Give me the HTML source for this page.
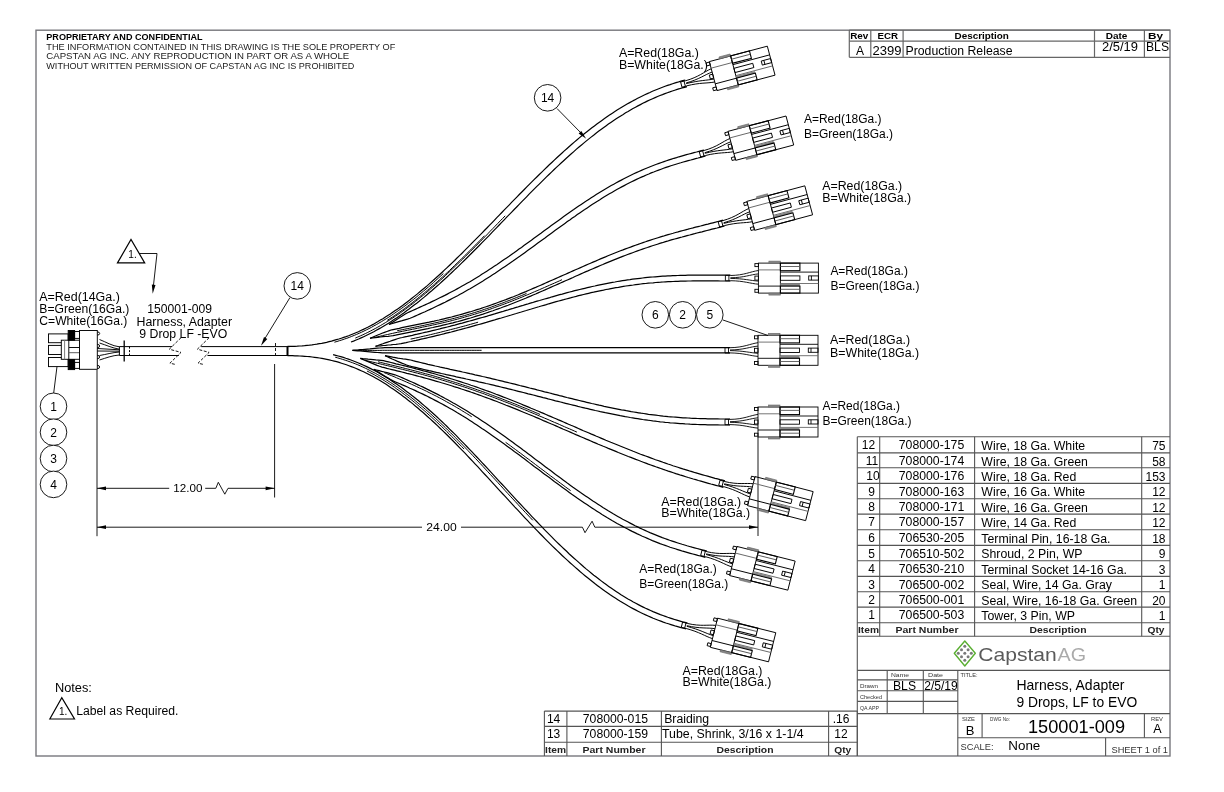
<!DOCTYPE html><html><head><meta charset="utf-8"><style>html,body{margin:0;padding:0;background:#fff;}svg{display:block;will-change:transform;}</style></head><body>
<svg width="1224" height="792" viewBox="0 0 1224 792" font-family='"Liberation Sans", sans-serif' stroke-linecap="butt">
<defs><g id="conn" fill="none" stroke="#000" stroke-width="0.9">
<rect x="0" y="-15" width="60" height="30"/>
<rect x="-3.5" y="-14.5" width="3.5" height="3"/>
<rect x="-3.5" y="-2" width="3.5" height="4"/>
<rect x="-3.5" y="11.2" width="3.5" height="3"/>
<rect x="10.5" y="-17" width="11.5" height="2" fill="#888" stroke="#666" stroke-width="0.6"/>
<rect x="10.5" y="15" width="11.5" height="2" fill="#888" stroke="#666" stroke-width="0.6"/>
<line x1="22" y1="-15" x2="22" y2="15"/>
<line x1="0" y1="-8.2" x2="22" y2="-8.2" stroke="#666"/>
<line x1="0" y1="8" x2="22" y2="8"/>
<line x1="22" y1="-6" x2="60" y2="-6"/>
<line x1="22" y1="5.4" x2="60" y2="5.4" stroke="#666"/>
<rect x="22" y="-15" width="19.5" height="7.6" stroke-width="1.1"/>
<line x1="22" y1="-11.6" x2="41.5" y2="-11.6" stroke="#555"/>
<rect x="22" y="-2.2" width="19.5" height="4.4"/>
<rect x="50.3" y="-2.2" width="9.7" height="4.2"/>
<line x1="53" y1="-2.2" x2="53" y2="2"/>
<rect x="22" y="5.7" width="19.5" height="2.3" fill="#888" stroke="none"/>
<rect x="22" y="8" width="19.5" height="7" stroke-width="1.1"/>
<line x1="22" y1="11.2" x2="41.5" y2="11.2" stroke="#555"/>
<path d="M-28,-2.6 C-14,-2.8 -8,-6.5 0,-7.6 M-28,-0.3 C-14,-0.5 -8,-3.5 0,-4.2 M-28,0.3 C-14,0.5 -8,2.5 0,3.0 M-28,2.6 C-14,2.8 -8,5.5 0,6.1"/>
<line x1="-33" y1="-2.8" x2="-33" y2="2.8"/>
<line x1="-29.5" y1="-2.8" x2="-29.5" y2="2.8"/>
<line x1="-33" y1="-2.7" x2="-28" y2="-2.7"/>
<line x1="-33" y1="2.7" x2="-28" y2="2.7"/>
</g></defs>
<rect width="1224" height="792" fill="#fff"/>
<rect x="36.0" y="30.2" width="1134.0" height="725.8" stroke="#77777c" stroke-width="1.4" fill="none"/>
<text x="46.3" y="39.5" font-size="9.4" font-weight="bold" textLength="156.2" lengthAdjust="spacingAndGlyphs">PROPRIETARY AND CONFIDENTIAL</text>
<text x="46.3" y="49.6" font-size="9.6" fill="#1a1a1a" textLength="349" lengthAdjust="spacingAndGlyphs">THE INFORMATION CONTAINED IN THIS DRAWING IS THE SOLE PROPERTY OF</text>
<text x="46.3" y="59.3" font-size="9.6" fill="#1a1a1a" textLength="303" lengthAdjust="spacingAndGlyphs">CAPSTAN AG INC. ANY REPRODUCTION IN PART OR AS A WHOLE</text>
<text x="46.3" y="69.2" font-size="9.6" fill="#1a1a1a" textLength="308" lengthAdjust="spacingAndGlyphs">WITHOUT WRITTEN PERMISSION OF CAPSTAN AG INC IS PROHIBITED</text>
<line x1="849.3" y1="30.0" x2="1170.0" y2="30.0" stroke-width="1.2" stroke="#666"/>
<line x1="849.3" y1="41.2" x2="1170.0" y2="41.2" stroke-width="1.2" stroke="#666"/>
<line x1="849.3" y1="57.3" x2="1170.0" y2="57.3" stroke-width="1.2" stroke="#666"/>
<line x1="849.3" y1="30.0" x2="849.3" y2="57.3" stroke-width="1.2" stroke="#666"/>
<line x1="870.8" y1="30.0" x2="870.8" y2="57.3" stroke-width="1.2" stroke="#666"/>
<line x1="903.1" y1="30.0" x2="903.1" y2="57.3" stroke-width="1.2" stroke="#666"/>
<line x1="1094.5" y1="30.0" x2="1094.5" y2="57.3" stroke-width="1.2" stroke="#666"/>
<line x1="1144.4" y1="30.0" x2="1144.4" y2="57.3" stroke-width="1.2" stroke="#666"/>
<text x="850.2" y="39.4" font-size="9.5" font-weight="bold" textLength="18.2" lengthAdjust="spacingAndGlyphs">Rev</text>
<text x="877.4" y="39.4" font-size="9.5" font-weight="bold" textLength="20.6" lengthAdjust="spacingAndGlyphs">ECR</text>
<text x="954.5" y="39.4" font-size="9.5" font-weight="bold" textLength="54.4" lengthAdjust="spacingAndGlyphs">Description</text>
<text x="1105.7" y="39.4" font-size="9.5" font-weight="bold" textLength="21.7" lengthAdjust="spacingAndGlyphs">Date</text>
<text x="1148.0" y="39.4" font-size="9.5" font-weight="bold" textLength="15" lengthAdjust="spacingAndGlyphs">By</text>
<text x="860.0" y="54.8" font-size="12" text-anchor="middle">A</text>
<text x="872.5" y="54.8" font-size="12" textLength="29" lengthAdjust="spacingAndGlyphs">2399</text>
<text x="905.5" y="54.8" font-size="12" textLength="107" lengthAdjust="spacingAndGlyphs">Production Release</text>
<text x="1102.0" y="50.8" font-size="12" textLength="36" lengthAdjust="spacingAndGlyphs">2/5/19</text>
<text x="1146.0" y="50.8" font-size="12" textLength="23" lengthAdjust="spacingAndGlyphs">BLS</text>
<g fill="none" stroke="#000" stroke-width="0.95">
<rect x="48.5" y="333.9" width="19.7" height="8.8"/>
<rect x="48.5" y="345.4" width="19.7" height="9.1"/>
<rect x="48.5" y="357.5" width="19.7" height="9.1"/>
<rect x="61.3" y="340.2" width="20" height="19.1" fill="#fff"/>
<line x1="64.6" y1="340.2" x2="64.6" y2="359.3" stroke="#777"/><line x1="68.8" y1="340.2" x2="68.8" y2="359.3"/>
<line x1="69" y1="347.5" x2="80.7" y2="347.5"/><line x1="69" y1="352.7" x2="80.7" y2="352.7" stroke="#555"/>
<rect x="79.5" y="330.5" width="17.8" height="38.8" fill="#fff"/>
<rect x="68.2" y="330.5" width="6.4" height="9.7" fill="#000"/>
<rect x="68.2" y="359.6" width="6.4" height="10" fill="#000"/>
<rect x="74.6" y="331.5" width="4.9" height="6.9"/><rect x="74.6" y="362.4" width="4.9" height="6"/>
<path d="M97.3,331.9 q2.4,0 2.4,1.6 q0,1.6 -2.4,1.6"/>
<path d="M97.3,344.4 q2.4,0 2.4,1.6 q0,1.6 -2.4,1.6"/>
<path d="M97.3,355.4 q2.4,0 2.4,1.6 q0,1.6 -2.4,1.6"/>
<path d="M97.3,365.4 q2.4,0 2.4,1.6 q0,1.6 -2.4,1.6"/>
<path d="M99.5,339.5 C106,342 112,346 119.4,346.8 M99.5,343 C106,345 112,348 119.4,349.2 M97.3,348.5 L119.4,349.8 M97.3,351 L119.4,351.2 M99.5,355.5 C106,354.5 112,352.5 119.4,352 M99.5,360 C106,358 112,355.5 119.4,355"/>
</g>
<g fill="none" stroke="#000" stroke-width="1">
<path d="M119.4,346.6 H172 M119.4,355.5 H178.9 M201.2,346.6 H290 M207.5,355.5 H290"/>
<line x1="119.4" y1="346.6" x2="119.4" y2="355.5"/>
<line x1="124.2" y1="340.4" x2="124.2" y2="361.6" stroke-width="1.3"/>
<line x1="129.5" y1="346.6" x2="129.5" y2="355.5" stroke-dasharray="2,1.5"/>
<path d="M181,337.7 L169.3,349.2 L181,352.4 L169.9,363.2 L175.7,364.5" stroke-dasharray="3,1.6" stroke-width="0.9"/>
<path d="M209.1,337.7 L197.4,349.2 L209.1,352.4 L198.0,363.2 L203.79999999999998,364.5" stroke-dasharray="3,1.6" stroke-width="0.9"/>
<line x1="287.5" y1="346.6" x2="287.5" y2="355.5" stroke-width="2"/>
</g>
<path d="M117.5,262.9 L131,239.4 L144.7,262.9 Z" fill="none" stroke="#000" stroke-width="1.2"/>
<text x="132.5" y="258.0" font-size="10" text-anchor="middle">1.</text>
<path d="M139,253.5 H157 L153.5,285" fill="none" stroke="#000" stroke-width="0.9"/>
<path d="M152.7,293.7 L151.8,284.5 L155.5,285.0 Z" fill="#000" stroke="none"/>
<text x="179.7" y="313.3" font-size="12" text-anchor="middle" textLength="64.7" lengthAdjust="spacingAndGlyphs">150001-009</text>
<text x="184.3" y="325.7" font-size="12" text-anchor="middle" textLength="95.5" lengthAdjust="spacingAndGlyphs">Harness, Adapter</text>
<text x="183.3" y="337.8" font-size="12" text-anchor="middle" textLength="88" lengthAdjust="spacingAndGlyphs">9 Drop LF -EVO</text>
<text x="39.3" y="301.2" font-size="12" textLength="80.5" lengthAdjust="spacingAndGlyphs">A=Red(14Ga.)</text>
<text x="39.3" y="313.0" font-size="12" textLength="90" lengthAdjust="spacingAndGlyphs">B=Green(16Ga.)</text>
<text x="39.3" y="324.8" font-size="12" textLength="88" lengthAdjust="spacingAndGlyphs">C=White(16Ga.)</text>
<line x1="57.0" y1="366.5" x2="53.7" y2="393.0" stroke-width="0.9" stroke="#000"/>
<circle cx="53.5" cy="406.3" r="13.3" fill="#fff" stroke="#000" stroke-width="0.9"/>
<text x="53.5" y="410.6" font-size="12" text-anchor="middle">1</text>
<circle cx="53.5" cy="432.2" r="13.3" fill="#fff" stroke="#000" stroke-width="0.9"/>
<text x="53.5" y="436.5" font-size="12" text-anchor="middle">2</text>
<circle cx="53.5" cy="458.5" r="13.3" fill="#fff" stroke="#000" stroke-width="0.9"/>
<text x="53.5" y="462.8" font-size="12" text-anchor="middle">3</text>
<circle cx="53.5" cy="484.4" r="13.3" fill="#fff" stroke="#000" stroke-width="0.9"/>
<text x="53.5" y="488.7" font-size="12" text-anchor="middle">4</text>
<line x1="290.0" y1="297.5" x2="264.0" y2="340.0" stroke-width="0.9" stroke="#000"/>
<path d="M261.0,345.7 L264.0,337.0 L267.3,339.0 Z" fill="#000" stroke="none"/>
<circle cx="297.3" cy="285.9" r="13.3" fill="#fff" stroke="#000" stroke-width="0.9"/>
<text x="297.3" y="290.2" font-size="12" text-anchor="middle">14</text>
<g stroke="#000" stroke-width="0.9" fill="none">
<line x1="97" y1="370" x2="97" y2="536.2"/>
<line x1="275.5" y1="343" x2="275.5" y2="358" stroke-dasharray="3,2"/><line x1="274.6" y1="364" x2="274.6" y2="497.5"/>
<line x1="758" y1="437" x2="758" y2="536"/>
<path d="M97,488.3 H169.2 M205.2,488.3 H215.8 L218.3,482.3 L224.8,494.2 L228,488.3 H274.6"/>
<path d="M97,527.2 H422 M461,527.2 H582.4 L585,532.7 L592.1,521.2 L594.8,527.2 H758"/>
</g>
<path d="M97.0,488.3 L106.0,486.4 L106.0,490.2 Z" fill="#000" stroke="none"/>
<path d="M274.6,488.3 L265.6,490.2 L265.6,486.4 Z" fill="#000" stroke="none"/>
<path d="M97.0,527.2 L106.0,525.3 L106.0,529.1 Z" fill="#000" stroke="none"/>
<path d="M758.0,527.2 L749.0,529.1 L749.0,525.3 Z" fill="#000" stroke="none"/>
<text x="187.9" y="491.7" font-size="11.5" text-anchor="middle" textLength="29.1" lengthAdjust="spacingAndGlyphs">12.00</text>
<text x="441.5" y="531.0" font-size="11.5" text-anchor="middle" textLength="30.3" lengthAdjust="spacingAndGlyphs">24.00</text>
<text x="54.9" y="691.6" font-size="12" textLength="37" lengthAdjust="spacingAndGlyphs">Notes:</text>
<path d="M49.8,719 L61.8,697.8 L74.5,719 Z" fill="none" stroke="#000" stroke-width="1.2"/>
<text x="63.2" y="715.0" font-size="10" text-anchor="middle">1.</text>
<text x="76.2" y="714.6" font-size="12" textLength="102.2" lengthAdjust="spacingAndGlyphs">Label as Required.</text>
<g fill="none" stroke="#000" stroke-width="1.2">
<path d="M287.5,346.4 L290.0,346.4 L292.4,346.3 L294.9,346.3 L297.3,346.2 L299.8,346.0 L302.2,345.9 L304.6,345.7 L307.1,345.4 L309.5,345.2 L312.0,344.9 L314.4,344.5 L316.9,344.2 L319.3,343.7 L321.7,343.3 L324.2,342.8 L326.6,342.3 L329.1,341.7 L331.5,341.1 L333.9,340.4 L336.4,339.7 L338.8,339.0 L341.3,338.2 L343.7,337.4 L346.1,336.6 L348.6,335.7 L351.0,334.7 L353.5,333.7 L355.9,332.7 L358.4,331.7 L360.8,330.5 L363.3,329.4 L365.7,328.2 L368.2,327.0 L370.6,325.7 L373.1,324.4 L375.5,323.0 L378.0,321.6 L380.4,320.1 L382.9,318.7 L385.4,317.1 L387.8,315.6 L390.3,314.0 L392.7,312.3 L395.2,310.6 L397.7,308.9 L400.1,307.2 L402.6,305.4 L405.1,303.5 L407.5,301.7 L410.0,299.8 L412.5,297.8 L414.9,295.9 L417.4,293.9 L419.9,291.8 L422.3,289.8 L424.8,287.7 L427.3,285.6 L429.8,283.4 L432.2,281.2 L434.7,279.0 L437.2,276.8 L439.7,274.5 L442.2,272.2 L444.6,269.9 L447.1,267.6 L449.6,265.2 L452.1,262.9 L454.6,260.5 L457.0,258.0 L459.5,255.6 L462.0,253.2 L464.5,250.7 L467.0,248.2 L469.5,245.7 L471.9,243.2 L474.4,240.7 L476.9,238.2 L479.4,235.6 L481.9,233.1 L484.4,230.5 L486.9,228.0 L489.4,225.4 L491.9,222.8 L494.3,220.3 L496.8,217.7 L499.3,215.1 L501.8,212.5 L504.3,209.9 L506.8,207.4 L509.3,204.8 L511.8,202.2 L514.3,199.7 L516.8,197.1 L519.3,194.5 L521.8,192.0 L524.3,189.5 L526.8,186.9 L529.3,184.4 L531.8,181.9 L534.3,179.4 L536.8,177.0 L539.3,174.5 L541.8,172.1 L544.3,169.6 L546.8,167.2 L549.3,164.8 L551.8,162.5 L554.3,160.1 L556.8,157.8 L559.3,155.5 L561.8,153.2 L564.3,150.9 L566.8,148.7 L569.3,146.5 L571.8,144.3 L574.3,142.1 L576.8,140.0 L579.3,137.9 L581.8,135.8 L584.3,133.8 L586.9,131.8 L589.4,129.8 L591.9,127.8 L594.4,125.9 L596.9,124.0 L599.4,122.2 L601.9,120.4 L604.5,118.6 L607.0,116.8 L609.5,115.1 L612.0,113.4 L614.5,111.8 L617.1,110.1 L619.6,108.6 L622.1,107.0 L624.6,105.5 L627.1,104.0 L629.7,102.6 L632.2,101.2 L634.7,99.9 L637.2,98.5 L639.8,97.2 L642.3,96.0 L644.8,94.8 L647.3,93.6 L649.9,92.5 L652.4,91.3 L654.9,90.3 L657.5,89.2 L660.0,88.2 L662.5,87.3 L665.1,86.3 L667.6,85.4 L670.1,84.6 L672.6,83.7 L675.2,82.9 L677.7,82.2 L680.2,81.4 L682.7,80.7 L685.3,80.0"/>
<path d="M351.0,342.0 L353.5,341.1 L356.1,340.0 L358.6,339.0 L361.1,337.9 L363.7,336.7 L366.2,335.5 L368.7,334.3 L371.3,333.0 L373.8,331.7 L376.3,330.3 L378.9,328.9 L381.4,327.5 L383.9,326.0 L386.4,324.5 L389.0,322.9 L391.5,321.3 L394.0,319.6 L396.5,318.0 L399.1,316.2 L401.6,314.5 L404.1,312.7 L406.6,310.8 L409.1,309.0 L411.6,307.1 L414.2,305.1 L416.7,303.2 L419.2,301.2 L421.7,299.1 L424.2,297.1 L426.7,295.0 L429.2,292.8 L431.7,290.7 L434.2,288.5 L436.8,286.3 L439.3,284.1 L441.8,281.8 L444.3,279.5 L446.8,277.2 L449.3,274.9 L451.8,272.5 L454.3,270.1 L456.8,267.8 L459.3,265.3 L461.8,262.9 L464.3,260.5 L466.8,258.0 L469.3,255.5 L471.8,253.0 L474.3,250.5 L476.8,248.0 L479.3,245.5 L481.8,242.9 L484.3,240.4 L486.8,237.8 L489.3,235.3 L491.8,232.7 L494.2,230.1 L496.7,227.6 L499.2,225.0 L501.7,222.4 L504.2,219.8 L506.7,217.2 L509.2,214.7 L511.7,212.1 L514.2,209.5 L516.7,207.0 L519.2,204.4 L521.6,201.8 L524.1,199.3 L526.6,196.8 L529.1,194.2 L531.6,191.7 L534.1,189.2 L536.6,186.7 L539.0,184.3 L541.5,181.8 L544.0,179.4 L546.5,176.9 L549.0,174.5 L551.5,172.1 L553.9,169.8 L556.4,167.4 L558.9,165.1 L561.4,162.8 L563.9,160.5 L566.3,158.2 L568.8,156.0 L571.3,153.8 L573.8,151.6 L576.2,149.4 L578.7,147.3 L581.2,145.2 L583.7,143.1 L586.1,141.1 L588.6,139.1 L591.1,137.1 L593.6,135.2 L596.0,133.2 L598.5,131.3 L601.0,129.5 L603.4,127.7 L605.9,125.9 L608.4,124.1 L610.8,122.4 L613.3,120.7 L615.8,119.1 L618.2,117.5 L620.7,115.9 L623.2,114.4 L625.6,112.8 L628.1,111.4 L630.5,109.9 L633.0,108.5 L635.5,107.2 L637.9,105.9 L640.4,104.6 L642.8,103.3 L645.3,102.1 L647.7,100.9 L650.2,99.8 L652.6,98.7 L655.1,97.6 L657.6,96.5 L660.0,95.5 L662.5,94.6 L664.9,93.6 L667.4,92.7 L669.8,91.9 L672.3,91.0 L674.7,90.2 L677.2,89.4 L679.6,88.7 L682.1,87.9 L684.6,87.3 L687.0,86.6"/>
<path d="M355.3,338.1 L357.8,337.0 L360.3,335.9 L362.8,334.8 L365.3,333.6 L367.8,332.4 L370.3,331.1 L372.8,329.8 L375.3,328.5 L377.8,327.1 L380.3,325.7 L382.8,324.2 L385.3,322.7 L387.9,321.1 L390.4,319.5 L392.9,317.9 L395.4,316.2 L397.9,314.5 L400.4,312.8 L402.9,311.0 L405.4,309.2 L407.9,307.3 L410.4,305.4 L412.9,303.5 L415.4,301.5 L417.9,299.5 L420.4,297.5 L422.9,295.5 L425.4,293.4 L427.9,291.3 L430.4,289.1 L432.9,286.9 L435.4,284.7 L437.9,282.5 L440.4,280.2 L442.9,278.0 L445.3,275.7 L447.8,273.3 L450.3,271.0 L452.8,268.6 L455.3,266.2 L457.8,263.8 L460.3,261.4 L462.8,259.0 L465.3,256.5 L467.8,254.0 L470.3,251.5 L472.8,249.0 L475.3,246.5 L477.8,244.0 L480.3,241.5 L482.8,238.9 L485.3,236.4 L487.8,233.8 L490.2,231.2 L492.7,228.7 L495.2,226.1 L497.7,223.5 L500.2,220.9 L502.7,218.4 L505.2,215.8" stroke-width="1"/>
<path d="M334.4,342.2 L336.9,341.5 L339.4,340.7 L341.8,340.0 L344.3,339.1 L346.8,338.3 L349.2,337.4 L351.7,336.4 L354.2,335.4 L356.6,334.4 L359.1,333.3 L361.6,332.2 L364.0,331.0 L366.5,329.8 L369.0,328.6 L371.5,327.3 L373.9,325.9 L376.4,324.6 L378.9,323.1 L381.4,321.7 L383.8,320.2 L386.3,318.7 L388.8,317.1 L391.3,315.5 L393.7,313.8 L396.2,312.1 L398.7,310.4 L401.2,308.6 L403.7,306.8 L406.1,305.0 L408.6,303.1 L411.1,301.2 L413.6,299.3 L416.1,297.3 L418.5,295.3 L421.0,293.2 L423.5,291.1 L426.0,289.0 L428.5,286.9 L431.0,284.8 L433.4,282.6 L435.9,280.3 L438.4,278.1 L440.9,275.8 L443.4,273.5" stroke-width="1"/>
<path d="M387.3,320.3 L389.8,318.7 L392.3,317.1 L394.8,315.4 L397.3,313.7 L399.8,311.9 L402.3,310.2 L404.8,308.4 L407.3,306.5 L409.8,304.6 L412.3,302.7 L414.8,300.7 L417.2,298.8 L419.7,296.7 L422.2,294.7 L424.7,292.6 L427.2,290.5 L429.7,288.3 L432.2,286.2 L434.7,284.0 L437.2,281.8 L439.7,279.5 L442.2,277.2 L444.7,274.9 L447.2,272.6 L449.7,270.3 L452.1,267.9 L454.6,265.5 L457.1,263.1 L459.6,260.7 L462.1,258.2 L464.6,255.8 L467.1,253.3 L469.6,250.8 L472.1,248.3 L474.6,245.8 L477.1,243.3 L479.6,240.8 L482.1,238.2 L484.5,235.7" stroke-width="1"/>
<use href="#conn" transform="translate(713.20,76.10) rotate(-14.9)"/>
<path d="M389.0,324.5 L391.3,323.0 L393.7,321.5 L396.0,320.0 L398.3,318.5 L400.6,317.1 L403.0,315.6 L405.3,314.1 L407.6,312.7 L410.1,311.6 L412.6,310.5 L415.1,309.4 L417.6,308.2 L420.0,307.1 L422.5,306.0 L425.0,304.9 L427.5,303.7 L430.0,302.6 L432.4,301.4 L434.9,300.2 L437.4,299.0 L439.8,297.8 L442.3,296.6 L444.8,295.4 L447.3,294.1 L449.7,292.8 L452.2,291.5 L454.7,290.2 L457.1,288.9 L459.6,287.5 L462.1,286.1 L464.5,284.7 L467.0,283.3 L469.5,281.9 L472.0,280.4 L474.4,278.9 L476.9,277.4 L479.4,275.9 L481.8,274.3 L484.3,272.8 L486.8,271.2 L489.3,269.6 L491.7,268.0 L494.2,266.3 L496.7,264.7 L499.2,263.0 L501.6,261.3 L504.1,259.6 L506.6,257.9 L509.1,256.2 L511.5,254.4 L514.0,252.7 L516.5,250.9 L519.0,249.1 L521.5,247.4 L523.9,245.6 L526.4,243.8 L528.9,242.0 L531.4,240.2 L533.9,238.3 L536.4,236.5 L538.8,234.7 L541.3,232.9 L543.8,231.0 L546.3,229.2 L548.8,227.4 L551.3,225.6 L553.8,223.8 L556.3,222.0 L558.8,220.2 L561.2,218.4 L563.7,216.6 L566.2,214.8 L568.7,213.0 L571.2,211.3 L573.7,209.6 L576.2,207.8 L578.7,206.1 L581.2,204.4 L583.7,202.7 L586.2,201.1 L588.7,199.4 L591.2,197.8 L593.7,196.2 L596.2,194.6 L598.7,193.0 L601.2,191.5 L603.7,190.0 L606.2,188.5 L608.7,187.0 L611.2,185.6 L613.8,184.2 L616.3,182.8 L618.8,181.4 L621.3,180.1 L623.8,178.8 L626.3,177.5 L628.8,176.2 L631.3,175.0 L633.8,173.8 L636.3,172.6 L638.9,171.5 L641.4,170.4 L643.9,169.3 L646.4,168.2 L648.9,167.2 L651.4,166.2 L653.9,165.2 L656.5,164.3 L659.0,163.4 L661.5,162.5 L664.0,161.6 L666.5,160.7 L669.0,159.9 L671.5,159.1 L674.0,158.3 L676.5,157.6 L679.0,156.8 L681.5,156.1 L684.0,155.4 L686.5,154.7 L689.0,154.0 L691.5,153.3 L694.0,152.6 L696.5,152.0 L699.0,151.3 L701.5,150.7 L704.0,150.0"/>
<path d="M389.0,324.5 L391.6,323.7 L394.3,322.9 L396.9,322.1 L399.6,321.3 L402.2,320.6 L404.9,319.8 L407.5,319.1 L410.1,318.3 L412.6,317.2 L415.1,316.1 L417.6,315.0 L420.1,313.9 L422.6,312.8 L425.1,311.7 L427.6,310.5 L430.1,309.4 L432.6,308.2 L435.1,307.0 L437.6,305.8 L440.1,304.6 L442.6,303.4 L445.1,302.2 L447.6,300.9 L450.1,299.6 L452.6,298.3 L455.1,297.0 L457.6,295.7 L460.1,294.3 L462.6,292.9 L465.1,291.5 L467.6,290.1 L470.1,288.7 L472.6,287.2 L475.1,285.7 L477.6,284.2 L480.1,282.7 L482.6,281.2 L485.1,279.6 L487.6,278.0 L490.1,276.4 L492.6,274.8 L495.1,273.2 L497.6,271.5 L500.1,269.8 L502.6,268.1 L505.1,266.4 L507.6,264.7 L510.1,263.0 L512.6,261.3 L515.1,259.5 L517.6,257.7 L520.1,256.0 L522.6,254.2 L525.1,252.4 L527.6,250.6 L530.1,248.8 L532.6,247.0 L535.0,245.2 L537.5,243.3 L540.0,241.5 L542.5,239.7 L545.0,237.9 L547.5,236.0 L550.0,234.2 L552.4,232.4 L554.9,230.6 L557.4,228.8 L559.9,227.0 L562.4,225.2 L564.9,223.4 L567.3,221.6 L569.8,219.9 L572.3,218.1 L574.8,216.4 L577.3,214.6 L579.7,212.9 L582.2,211.2 L584.7,209.6 L587.2,207.9 L589.6,206.2 L592.1,204.6 L594.6,203.0 L597.0,201.4 L599.5,199.9 L602.0,198.3 L604.4,196.8 L606.9,195.3 L609.4,193.8 L611.9,192.4 L614.3,191.0 L616.8,189.6 L619.2,188.2 L621.7,186.9 L624.2,185.6 L626.6,184.3 L629.1,183.0 L631.6,181.8 L634.0,180.6 L636.5,179.4 L638.9,178.3 L641.4,177.1 L643.9,176.1 L646.3,175.0 L648.8,174.0 L651.2,172.9 L653.7,172.0 L656.2,171.0 L658.6,170.1 L661.1,169.2 L663.5,168.3 L666.0,167.4 L668.5,166.6 L670.9,165.8 L673.4,165.0 L675.9,164.2 L678.3,163.5 L680.8,162.8 L683.3,162.0 L685.7,161.3 L688.2,160.6 L690.7,160.0 L693.2,159.3 L695.6,158.6 L698.1,158.0 L700.6,157.3 L703.1,156.7 L705.6,156.0"/>
<use href="#conn" transform="translate(731.85,145.85) rotate(-14.8)"/>
<path d="M370.0,338.3 L372.4,337.3 L374.8,336.2 L377.2,335.2 L379.6,334.3 L382.0,333.3 L384.5,332.4 L386.9,331.5 L389.3,330.6 L391.8,329.8 L394.3,329.3 L396.8,328.8 L399.3,328.3 L401.8,327.7 L404.3,327.2 L406.8,326.7 L409.3,326.2 L411.8,325.7 L414.2,325.2 L416.7,324.7 L419.2,324.2 L421.7,323.7 L424.2,323.2 L426.7,322.7 L429.2,322.2 L431.6,321.6 L434.1,321.1 L436.6,320.5 L439.1,320.0 L441.6,319.4 L444.0,318.8 L446.5,318.2 L449.0,317.6 L451.5,317.0 L453.9,316.3 L456.4,315.7 L458.9,315.0 L461.4,314.3 L463.8,313.6 L466.3,312.9 L468.8,312.2 L471.3,311.5 L473.7,310.7 L476.2,309.9 L478.7,309.2 L481.2,308.4 L483.6,307.5 L486.1,306.7 L488.6,305.9 L491.1,305.0 L493.5,304.1 L496.0,303.2 L498.5,302.3 L501.0,301.4 L503.4,300.5 L505.9,299.6 L508.4,298.6 L510.9,297.6 L513.4,296.7 L515.8,295.7 L518.3,294.7 L520.8,293.6 L523.3,292.6 L525.8,291.6 L528.3,290.5 L530.7,289.5 L533.2,288.4 L535.7,287.4 L538.2,286.3 L540.7,285.2 L543.2,284.1 L545.6,283.0 L548.1,281.9 L550.6,280.8 L553.1,279.7 L555.6,278.6 L558.1,277.5 L560.6,276.4 L563.1,275.3 L565.6,274.2 L568.0,273.1 L570.5,272.0 L573.0,270.9 L575.5,269.8 L578.0,268.7 L580.5,267.6 L583.0,266.5 L585.5,265.4 L588.0,264.3 L590.5,263.2 L593.0,262.1 L595.5,261.1 L598.0,260.0 L600.5,258.9 L603.0,257.9 L605.5,256.9 L608.0,255.8 L610.5,254.8 L613.0,253.8 L615.5,252.8 L618.0,251.8 L620.5,250.8 L623.0,249.9 L625.5,248.9 L628.0,248.0 L630.5,247.1 L633.0,246.1 L635.5,245.2 L638.0,244.4 L640.5,243.5 L643.0,242.6 L645.5,241.8 L648.0,240.9 L650.5,240.1 L653.0,239.3 L655.5,238.5 L658.0,237.7 L660.6,236.9 L663.1,236.2 L665.6,235.4 L668.1,234.7 L670.6,234.0 L673.1,233.3 L675.6,232.5 L678.1,231.9 L680.6,231.2 L683.1,230.5 L685.6,229.8 L688.1,229.2 L690.6,228.5 L693.1,227.9 L695.6,227.2 L698.1,226.6 L700.5,226.0 L703.0,225.3 L705.5,224.7 L708.0,224.1 L710.5,223.4 L713.0,222.8 L715.5,222.2 L718.0,221.5 L720.4,220.9 L722.9,220.2"/>
<path d="M370.0,338.3 L372.6,337.9 L375.2,337.6 L377.7,337.3 L380.3,337.0 L382.9,336.7 L385.4,336.5 L388.0,336.3 L390.5,336.0 L393.1,335.7 L395.5,335.2 L398.0,334.6 L400.5,334.1 L403.0,333.6 L405.5,333.1 L408.0,332.6 L410.4,332.1 L412.9,331.6 L415.4,331.1 L417.9,330.6 L420.4,330.1 L422.9,329.6 L425.4,329.1 L427.9,328.6 L430.4,328.0 L432.9,327.5 L435.4,326.9 L437.9,326.4 L440.4,325.8 L442.9,325.2 L445.4,324.6 L447.9,324.0 L450.4,323.4 L452.9,322.8 L455.4,322.1 L458.0,321.5 L460.5,320.8 L463.0,320.1 L465.5,319.4 L468.0,318.7 L470.5,318.0 L473.0,317.2 L475.5,316.4 L478.0,315.7 L480.5,314.9 L483.0,314.1 L485.5,313.2 L488.0,312.4 L490.5,311.5 L493.0,310.7 L495.5,309.8 L498.1,308.9 L500.6,308.0 L503.1,307.0 L505.6,306.1 L508.1,305.2 L510.6,304.2 L513.1,303.2 L515.6,302.2 L518.1,301.2 L520.6,300.2 L523.1,299.2 L525.6,298.2 L528.1,297.1 L530.6,296.1 L533.1,295.0 L535.6,294.0 L538.1,292.9 L540.6,291.8 L543.1,290.7 L545.6,289.6 L548.1,288.5 L550.6,287.4 L553.0,286.3 L555.5,285.2 L558.0,284.1 L560.5,283.0 L563.0,281.9 L565.5,280.8 L568.0,279.7 L570.5,278.6 L573.0,277.5 L575.5,276.3 L578.0,275.2 L580.4,274.1 L582.9,273.0 L585.4,271.9 L587.9,270.9 L590.4,269.8 L592.9,268.7 L595.4,267.6 L597.8,266.6 L600.3,265.5 L602.8,264.5 L605.3,263.4 L607.8,262.4 L610.3,261.4 L612.7,260.4 L615.2,259.4 L617.7,258.4 L620.2,257.4 L622.7,256.4 L625.1,255.5 L627.6,254.5 L630.1,253.6 L632.6,252.7 L635.1,251.8 L637.5,250.9 L640.0,250.0 L642.5,249.1 L645.0,248.3 L647.4,247.5 L649.9,246.6 L652.4,245.8 L654.9,245.0 L657.4,244.2 L659.8,243.4 L662.3,242.7 L664.8,241.9 L667.3,241.2 L669.7,240.4 L672.2,239.7 L674.7,239.0 L677.2,238.3 L679.7,237.6 L682.1,237.0 L684.6,236.3 L687.1,235.6 L689.6,235.0 L692.1,234.3 L694.6,233.7 L697.0,233.0 L699.5,232.4 L702.0,231.8 L704.5,231.1 L707.0,230.5 L709.5,229.9 L712.0,229.2 L714.5,228.6 L717.0,228.0 L719.5,227.3 L722.0,226.7 L724.5,226.0"/>
<path d="M375.1,337.5 L377.6,336.8 L380.1,336.2 L382.6,335.6 L385.1,335.0 L387.6,334.5 L390.1,333.9 L392.5,333.4 L395.0,332.8 L397.5,332.3 L400.0,331.8 L402.5,331.3 L405.0,330.8 L407.5,330.3 L410.0,329.8 L412.5,329.3 L415.0,328.8 L417.4,328.3 L419.9,327.8 L422.4,327.2 L424.9,326.7 L427.4,326.2 L429.9,325.7 L432.4,325.1 L434.9,324.6 L437.4,324.0 L439.9,323.5 L442.4,322.9 L444.9,322.3 L447.4,321.7 L449.9,321.1 L452.3,320.5 L454.8,319.8 L457.3,319.2 L459.8,318.5 L462.3,317.8 L464.8,317.1 L467.3,316.4 L469.8,315.7 L472.3,314.9 L474.8,314.2 L477.3,313.4 L479.8,312.6 L482.3,311.8 L484.8,311.0 L487.3,310.1 L489.8,309.3 L492.3,308.4 L494.7,307.5 L497.2,306.6 L499.7,305.7 L502.2,304.8 L504.7,303.9 L507.2,302.9 L509.7,302.0 L512.2,301.0 L514.7,300.0 L517.2,299.0 L519.7,298.0 L522.2,297.0 L524.7,295.9 L527.2,294.9 L529.6,293.9 L532.1,292.8 L534.6,291.7 L537.1,290.7 L539.6,289.6 L542.1,288.5 L544.6,287.4 L547.1,286.3 L549.6,285.2 L552.1,284.1 L554.6,283.0 L557.1,281.9 L559.6,280.8 L562.0,279.7" stroke-width="1"/>
<path d="M397.2,330.7 L399.7,330.2 L402.2,329.7 L404.7,329.2 L407.2,328.7 L409.7,328.2 L412.1,327.7 L414.6,327.2 L417.1,326.7 L419.6,326.2 L422.1,325.7 L424.6,325.2 L427.1,324.6 L429.6,324.1 L432.1,323.6 L434.5,323.0 L437.0,322.5 L439.5,321.9 L442.0,321.3 L444.5,320.7 L447.0,320.1 L449.5,319.5 L452.0,318.9 L454.4,318.3 L456.9,317.6 L459.4,316.9 L461.9,316.3 L464.4,315.6 L466.9,314.9 L469.4,314.1 L471.8,313.4 L474.3,312.6 L476.8,311.9 L479.3,311.1 L481.8,310.3 L484.3,309.4 L486.8,308.6 L489.2,307.8 L491.7,306.9 L494.2,306.0 L496.7,305.1 L499.2,304.2 L501.7,303.3 L504.2,302.4 L506.6,301.4 L509.1,300.5 L511.6,299.5 L514.1,298.5 L516.6,297.5 L519.1,296.5 L521.6,295.5 L524.1,294.5 L526.5,293.4" stroke-width="1"/>
<use href="#conn" transform="translate(750.75,215.85) rotate(-15.0)"/>
<path d="M375.5,346.3 L377.9,345.5 L380.4,344.6 L382.8,343.8 L385.2,342.9 L387.7,342.1 L390.1,341.3 L392.6,340.4 L395.0,339.6 L397.4,338.8 L399.9,338.0 L402.4,337.5 L404.9,336.9 L407.4,336.4 L409.9,335.8 L412.4,335.3 L414.9,334.7 L417.3,334.2 L419.8,333.6 L422.3,333.0 L424.8,332.4 L427.3,331.9 L429.8,331.3 L432.3,330.7 L434.8,330.1 L437.3,329.5 L439.8,328.9 L442.3,328.2 L444.8,327.6 L447.3,327.0 L449.8,326.4 L452.2,325.7 L454.7,325.1 L457.2,324.4 L459.7,323.7 L462.2,323.1 L464.7,322.4 L467.2,321.7 L469.7,321.0 L472.2,320.3 L474.7,319.6 L477.2,318.9 L479.7,318.2 L482.2,317.5 L484.7,316.8 L487.2,316.1 L489.7,315.3 L492.2,314.6 L494.6,313.9 L497.1,313.1 L499.6,312.4 L502.1,311.7 L504.6,310.9 L507.1,310.2 L509.6,309.4 L512.1,308.7 L514.6,307.9 L517.1,307.2 L519.6,306.4 L522.1,305.7 L524.6,304.9 L527.1,304.2 L529.6,303.4 L532.1,302.7 L534.6,301.9 L537.1,301.2 L539.6,300.5 L542.1,299.7 L544.6,299.0 L547.1,298.3 L549.7,297.6 L552.2,296.8 L554.7,296.1 L557.2,295.4 L559.7,294.7 L562.2,294.1 L564.7,293.4 L567.2,292.7 L569.7,292.0 L572.2,291.4 L574.7,290.7 L577.2,290.1 L579.7,289.5 L582.3,288.9 L584.8,288.3 L587.3,287.7 L589.8,287.1 L592.3,286.5 L594.8,286.0 L597.3,285.4 L599.8,284.9 L602.4,284.4 L604.9,283.9 L607.4,283.4 L609.9,282.9 L612.4,282.4 L614.9,282.0 L617.4,281.5 L620.0,281.1 L622.5,280.7 L625.0,280.3 L627.5,279.9 L630.0,279.6 L632.5,279.2 L635.1,278.9 L637.6,278.6 L640.1,278.3 L642.6,278.0 L645.1,277.7 L647.6,277.4 L650.2,277.2 L652.7,277.0 L655.2,276.8 L657.7,276.6 L660.2,276.4 L662.7,276.2 L665.2,276.1 L667.8,275.9 L670.3,275.8 L672.8,275.7 L675.3,275.6 L677.8,275.5 L680.3,275.4 L682.8,275.3 L685.3,275.3 L687.9,275.2 L690.4,275.2 L692.9,275.1 L695.4,275.1 L697.9,275.1 L700.4,275.1 L702.9,275.1 L705.4,275.1 L707.9,275.1 L710.4,275.1 L712.9,275.1 L715.4,275.1 L717.9,275.1 L720.4,275.2 L722.9,275.2 L725.4,275.2 L727.9,275.2 L730.4,275.2"/>
<path d="M375.5,346.3 L378.1,346.0 L380.6,345.8 L383.2,345.5 L385.7,345.3 L388.3,345.0 L390.9,344.8 L393.4,344.5 L396.0,344.3 L398.6,344.0 L401.1,343.7 L403.6,343.1 L406.1,342.6 L408.6,342.0 L411.1,341.5 L413.6,340.9 L416.1,340.4 L418.6,339.8 L421.1,339.2 L423.6,338.7 L426.1,338.1 L428.6,337.5 L431.2,336.9 L433.7,336.3 L436.2,335.7 L438.7,335.1 L441.2,334.5 L443.7,333.9 L446.2,333.2 L448.7,332.6 L451.2,332.0 L453.7,331.3 L456.2,330.7 L458.7,330.0 L461.2,329.3 L463.7,328.7 L466.2,328.0 L468.7,327.3 L471.2,326.6 L473.8,325.9 L476.3,325.2 L478.8,324.5 L481.3,323.8 L483.8,323.1 L486.3,322.4 L488.8,321.6 L491.3,320.9 L493.8,320.2 L496.3,319.4 L498.8,318.7 L501.3,318.0 L503.8,317.2 L506.3,316.5 L508.8,315.7 L511.3,315.0 L513.8,314.2 L516.3,313.5 L518.8,312.7 L521.3,312.0 L523.8,311.2 L526.3,310.5 L528.8,309.7 L531.3,309.0 L533.8,308.2 L536.3,307.5 L538.8,306.8 L541.3,306.0 L543.8,305.3 L546.3,304.6 L548.8,303.8 L551.2,303.1 L553.7,302.4 L556.2,301.7 L558.7,301.0 L561.2,300.3 L563.7,299.7 L566.2,299.0 L568.7,298.3 L571.2,297.7 L573.7,297.0 L576.2,296.4 L578.6,295.7 L581.1,295.1 L583.6,294.5 L586.1,293.9 L588.6,293.3 L591.1,292.7 L593.6,292.2 L596.1,291.6 L598.5,291.1 L601.0,290.6 L603.5,290.1 L606.0,289.5 L608.5,289.1 L611.0,288.6 L613.5,288.1 L615.9,287.7 L618.4,287.3 L620.9,286.8 L623.4,286.4 L625.9,286.0 L628.4,285.7 L630.8,285.3 L633.3,285.0 L635.8,284.6 L638.3,284.3 L640.8,284.0 L643.2,283.7 L645.7,283.5 L648.2,283.2 L650.7,283.0 L653.2,282.8 L655.7,282.5 L658.1,282.3 L660.6,282.2 L663.1,282.0 L665.6,281.8 L668.1,281.7 L670.6,281.6 L673.0,281.5 L675.5,281.4 L678.0,281.3 L680.5,281.2 L683.0,281.1 L685.5,281.1 L688.0,281.0 L690.5,281.0 L692.9,280.9 L695.4,280.9 L697.9,280.9 L700.4,280.9 L702.9,280.9 L705.4,280.9 L707.9,280.9 L710.4,280.9 L712.9,280.9 L715.4,280.9 L717.9,280.9 L720.4,281.0 L722.9,281.0 L725.4,281.0 L727.9,281.0 L730.4,281.0"/>
<path d="M410.6,339.1 L413.1,338.6 L415.6,338.0 L418.1,337.5 L420.6,336.9 L423.1,336.3 L425.6,335.8 L428.1,335.2 L430.6,334.6 L433.1,334.0 L435.6,333.4 L438.1,332.8 L440.6,332.2 L443.1,331.5 L445.6,330.9 L448.1,330.3 L450.6,329.6 L453.1,329.0 L455.6,328.4 L458.1,327.7 L460.6,327.0 L463.1,326.4 L465.6,325.7 L468.1,325.0 L470.6,324.3 L473.1,323.6 L475.6,322.9 L478.1,322.2" stroke-width="1"/>
<use href="#conn" transform="translate(758.40,278.10) rotate(0)"/>
<path d="M352.5,350.4 L355.0,350.2 L357.5,350.0 L359.9,349.7 L362.4,349.5 L364.9,349.3 L367.4,349.1 L369.9,348.9 L372.4,348.6 L374.8,348.4 L377.3,348.2 L379.8,348.0 L382.3,347.8 L384.8,347.7 L387.3,347.7 L389.8,347.7 L392.2,347.7 L394.7,347.7 L397.2,347.7 L399.7,347.7 L402.2,347.7 L404.7,347.7 L407.1,347.7 L409.6,347.7 L412.1,347.7 L414.6,347.7 L417.1,347.7 L419.6,347.7 L422.0,347.7 L424.5,347.7 L427.0,347.7 L429.5,347.7 L432.0,347.7 L434.5,347.7 L436.9,347.7 L439.4,347.7 L441.9,347.7 L444.4,347.7 L446.9,347.7 L449.4,347.7 L451.8,347.7 L454.3,347.7 L456.8,347.7 L459.3,347.7 L461.8,347.7 L464.3,347.7 L466.7,347.7 L469.2,347.7 L471.7,347.7 L474.2,347.7 L476.7,347.7 L479.2,347.7 L481.6,347.7 L484.1,347.7 L486.6,347.7 L489.1,347.7 L491.6,347.7 L494.1,347.7 L496.5,347.7 L499.0,347.7 L501.5,347.7 L504.0,347.7 L506.5,347.7 L509.0,347.7 L511.4,347.7 L513.9,347.7 L516.4,347.7 L518.9,347.7 L521.4,347.7 L523.9,347.7 L526.3,347.7 L528.8,347.7 L531.3,347.7 L533.8,347.7 L536.3,347.7 L538.8,347.7 L541.3,347.7 L543.7,347.7 L546.2,347.7 L548.7,347.7 L551.2,347.7 L553.7,347.7 L556.2,347.7 L558.6,347.7 L561.1,347.7 L563.6,347.7 L566.1,347.7 L568.6,347.7 L571.1,347.7 L573.5,347.7 L576.0,347.7 L578.5,347.7 L581.0,347.7 L583.5,347.7 L586.0,347.7 L588.4,347.7 L590.9,347.7 L593.4,347.7 L595.9,347.7 L598.4,347.7 L600.9,347.7 L603.3,347.7 L605.8,347.7 L608.3,347.7 L610.8,347.7 L613.3,347.7 L615.8,347.7 L618.2,347.7 L620.7,347.7 L623.2,347.7 L625.7,347.7 L628.2,347.7 L630.7,347.7 L633.1,347.7 L635.6,347.7 L638.1,347.7 L640.6,347.7 L643.1,347.7 L645.6,347.7 L648.0,347.7 L650.5,347.7 L653.0,347.7 L655.5,347.7 L658.0,347.7 L660.5,347.7 L662.9,347.7 L665.4,347.7 L667.9,347.7 L670.4,347.7 L672.9,347.7 L675.4,347.7 L677.8,347.7 L680.3,347.7 L682.8,347.7 L685.3,347.7 L687.8,347.7 L690.3,347.7 L692.7,347.7 L695.2,347.7 L697.7,347.7 L700.2,347.7 L702.7,347.7 L705.2,347.7 L707.6,347.7 L710.1,347.7 L712.6,347.7 L715.1,347.7 L717.6,347.7 L720.1,347.7 L722.5,347.7 L725.0,347.7 L727.5,347.7 L730.0,347.7"/>
<path d="M352.5,350.4 L355.0,350.6 L357.5,350.8 L360.0,351.0 L362.4,351.2 L364.9,351.5 L367.4,351.7 L369.9,351.9 L372.4,352.1 L374.9,352.3 L377.3,352.5 L379.8,352.7 L382.3,352.9 L384.8,352.9 L387.3,352.9 L389.8,352.9 L392.2,352.9 L394.7,352.9 L397.2,352.9 L399.7,352.9 L402.2,352.9 L404.7,352.9 L407.1,352.9 L409.6,352.9 L412.1,352.9 L414.6,352.9 L417.1,352.9 L419.6,352.9 L422.0,352.9 L424.5,352.9 L427.0,352.9 L429.5,352.9 L432.0,352.9 L434.5,352.9 L436.9,352.9 L439.4,352.9 L441.9,352.9 L444.4,352.9 L446.9,352.9 L449.4,352.9 L451.8,352.9 L454.3,352.9 L456.8,352.9 L459.3,352.9 L461.8,352.9 L464.3,352.9 L466.7,352.9 L469.2,352.9 L471.7,352.9 L474.2,352.9 L476.7,352.9 L479.2,352.9 L481.6,352.9 L484.1,352.9 L486.6,352.9 L489.1,352.9 L491.6,352.9 L494.1,352.9 L496.5,352.9 L499.0,352.9 L501.5,352.9 L504.0,352.9 L506.5,352.9 L509.0,352.9 L511.4,352.9 L513.9,352.9 L516.4,352.9 L518.9,352.9 L521.4,352.9 L523.9,352.9 L526.3,352.9 L528.8,352.9 L531.3,352.9 L533.8,352.9 L536.3,352.9 L538.8,352.9 L541.2,352.9 L543.7,352.9 L546.2,352.9 L548.7,352.9 L551.2,352.9 L553.7,352.9 L556.2,352.9 L558.6,352.9 L561.1,352.9 L563.6,352.9 L566.1,352.9 L568.6,352.9 L571.1,352.9 L573.5,352.9 L576.0,352.9 L578.5,352.9 L581.0,352.9 L583.5,352.9 L586.0,352.9 L588.4,352.9 L590.9,352.9 L593.4,352.9 L595.9,352.9 L598.4,352.9 L600.9,352.9 L603.3,352.9 L605.8,352.9 L608.3,352.9 L610.8,352.9 L613.3,352.9 L615.8,352.9 L618.2,352.9 L620.7,352.9 L623.2,352.9 L625.7,352.9 L628.2,352.9 L630.7,352.9 L633.1,352.9 L635.6,352.9 L638.1,352.9 L640.6,352.9 L643.1,352.9 L645.6,352.9 L648.0,352.9 L650.5,352.9 L653.0,352.9 L655.5,352.9 L658.0,352.9 L660.5,352.9 L662.9,352.9 L665.4,352.9 L667.9,352.9 L670.4,352.9 L672.9,352.9 L675.4,352.9 L677.8,352.9 L680.3,352.9 L682.8,352.9 L685.3,352.9 L687.8,352.9 L690.3,352.9 L692.7,352.9 L695.2,352.9 L697.7,352.9 L700.2,352.9 L702.7,352.9 L705.2,352.9 L707.6,352.9 L710.1,352.9 L712.6,352.9 L715.1,352.9 L717.6,352.9 L720.1,352.9 L722.5,352.9 L725.0,352.9 L727.5,352.9 L730.0,352.9"/>
<path d="M352.5,350.4 L355.0,350.4 L357.5,350.4 L360.0,350.4 L362.4,350.4 L364.9,350.4 L367.4,350.4 L369.9,350.4 L372.4,350.4 L374.9,350.4 L377.3,350.4 L379.8,350.4 L382.3,350.3 L384.8,350.3 L387.3,350.3 L389.8,350.3 L392.2,350.3 L394.7,350.3 L397.2,350.3 L399.7,350.3 L402.2,350.3 L404.7,350.3 L407.1,350.3 L409.6,350.3 L412.1,350.3 L414.6,350.3 L417.1,350.3 L419.6,350.3 L422.0,350.3 L424.5,350.3 L427.0,350.3 L429.5,350.3 L432.0,350.3 L434.5,350.3 L436.9,350.3 L439.4,350.3 L441.9,350.3 L444.4,350.3 L446.9,350.3 L449.4,350.3 L451.8,350.3 L454.3,350.3 L456.8,350.3 L459.3,350.3 L461.8,350.3 L464.3,350.3 L466.7,350.3 L469.2,350.3 L471.7,350.3 L474.2,350.3 L476.7,350.3 L479.2,350.3 L481.6,350.3" stroke-width="1"/>
<use href="#conn" transform="translate(758.00,350.30) rotate(0)"/>
<path d="M385.0,355.7 L387.6,356.2 L390.2,356.7 L392.7,357.2 L395.3,357.6 L397.8,358.1 L400.4,358.5 L403.0,358.9 L405.5,359.2 L408.1,359.6 L410.6,360.0 L413.0,360.7 L415.5,361.3 L418.0,361.9 L420.5,362.5 L422.9,363.1 L425.4,363.7 L427.9,364.3 L430.3,364.8 L432.8,365.4 L435.3,366.0 L437.8,366.5 L440.3,367.1 L442.7,367.6 L445.2,368.2 L447.7,368.7 L450.2,369.3 L452.7,369.8 L455.1,370.3 L457.6,370.9 L460.1,371.4 L462.6,372.0 L465.1,372.5 L467.6,373.1 L470.0,373.7 L472.5,374.2 L475.0,374.8 L477.5,375.3 L480.0,375.9 L482.5,376.5 L485.0,377.0 L487.4,377.6 L489.9,378.2 L492.4,378.8 L494.9,379.4 L497.4,380.0 L499.9,380.6 L502.4,381.2 L504.8,381.8 L507.3,382.4 L509.8,383.0 L512.3,383.6 L514.8,384.2 L517.3,384.8 L519.8,385.5 L522.2,386.1 L524.7,386.7 L527.2,387.3 L529.7,388.0 L532.2,388.6 L534.7,389.2 L537.1,389.9 L539.6,390.5 L542.1,391.1 L544.6,391.8 L547.1,392.4 L549.6,393.0 L552.0,393.7 L554.5,394.3 L557.0,394.9 L559.5,395.6 L562.0,396.2 L564.4,396.8 L566.9,397.5 L569.4,398.1 L571.9,398.7 L574.4,399.3 L576.8,399.9 L579.3,400.5 L581.8,401.1 L584.3,401.7 L586.7,402.3 L589.2,402.9 L591.7,403.5 L594.2,404.0 L596.6,404.6 L599.1,405.2 L601.6,405.7 L604.1,406.3 L606.5,406.8 L609.0,407.3 L611.5,407.8 L613.9,408.3 L616.4,408.8 L618.9,409.3 L621.4,409.8 L623.8,410.2 L626.3,410.7 L628.8,411.1 L631.2,411.6 L633.7,412.0 L636.2,412.4 L638.6,412.8 L641.1,413.2 L643.6,413.5 L646.0,413.9 L648.5,414.3 L651.0,414.6 L653.4,414.9 L655.9,415.2 L658.4,415.5 L660.8,415.8 L663.3,416.1 L665.8,416.3 L668.2,416.6 L670.7,416.8 L673.2,417.0 L675.6,417.2 L678.1,417.4 L680.6,417.6 L683.0,417.8 L685.5,417.9 L688.0,418.0 L690.4,418.2 L692.9,418.3 L695.4,418.4 L697.8,418.5 L700.3,418.6 L702.8,418.7 L705.3,418.7 L707.7,418.8 L710.2,418.8 L712.7,418.9 L715.1,418.9 L717.6,418.9 L720.1,419.0 L722.6,419.0 L725.0,419.0 L727.5,419.0 L730.0,419.0"/>
<path d="M385.0,355.7 L387.4,356.8 L389.8,357.9 L392.2,359.0 L394.6,360.0 L397.0,361.1 L399.4,362.1 L401.8,363.1 L404.2,364.0 L406.6,365.0 L409.1,365.9 L411.6,366.5 L414.1,367.1 L416.6,367.7 L419.0,368.3 L421.5,368.9 L424.0,369.5 L426.5,370.1 L429.0,370.7 L431.5,371.2 L434.0,371.8 L436.5,372.4 L439.0,372.9 L441.4,373.5 L443.9,374.0 L446.4,374.6 L448.9,375.1 L451.4,375.7 L453.9,376.2 L456.3,376.8 L458.8,377.3 L461.3,377.9 L463.8,378.4 L466.3,379.0 L468.7,379.5 L471.2,380.1 L473.7,380.6 L476.2,381.2 L478.6,381.8 L481.1,382.3 L483.6,382.9 L486.1,383.5 L488.6,384.0 L491.0,384.6 L493.5,385.2 L496.0,385.8 L498.5,386.4 L500.9,387.0 L503.4,387.6 L505.9,388.2 L508.4,388.8 L510.9,389.4 L513.3,390.0 L515.8,390.7 L518.3,391.3 L520.8,391.9 L523.3,392.5 L525.7,393.1 L528.2,393.8 L530.7,394.4 L533.2,395.0 L535.7,395.7 L538.1,396.3 L540.6,396.9 L543.1,397.6 L545.6,398.2 L548.1,398.9 L550.6,399.5 L553.0,400.1 L555.5,400.8 L558.0,401.4 L560.5,402.0 L563.0,402.7 L565.5,403.3 L567.9,403.9 L570.4,404.5 L572.9,405.1 L575.4,405.7 L577.9,406.4 L580.4,407.0 L582.9,407.6 L585.4,408.2 L587.8,408.7 L590.3,409.3 L592.8,409.9 L595.3,410.5 L597.8,411.0 L600.3,411.6 L602.8,412.1 L605.3,412.7 L607.8,413.2 L610.3,413.7 L612.8,414.2 L615.2,414.7 L617.7,415.2 L620.2,415.7 L622.7,416.1 L625.2,416.6 L627.7,417.0 L630.2,417.5 L632.7,417.9 L635.2,418.3 L637.7,418.7 L640.2,419.1 L642.7,419.5 L645.2,419.8 L647.7,420.2 L650.2,420.5 L652.7,420.9 L655.2,421.2 L657.7,421.5 L660.2,421.8 L662.7,422.0 L665.2,422.3 L667.7,422.5 L670.2,422.8 L672.7,423.0 L675.2,423.2 L677.7,423.4 L680.1,423.6 L682.6,423.7 L685.1,423.9 L687.6,424.0 L690.1,424.2 L692.6,424.3 L695.1,424.4 L697.6,424.5 L700.1,424.6 L702.6,424.7 L705.1,424.7 L707.6,424.8 L710.1,424.8 L712.6,424.9 L715.1,424.9 L717.6,424.9 L720.1,425.0 L722.5,425.0 L725.0,425.0 L727.5,425.0 L730.0,425.0"/>
<use href="#conn" transform="translate(758.00,422.00) rotate(0)"/>
<path d="M360.3,358.4 L362.9,358.7 L365.5,358.9 L368.1,359.2 L370.6,359.4 L373.2,359.6 L375.8,359.9 L378.4,360.1 L381.0,360.3 L383.5,360.7 L386.0,361.3 L388.5,361.9 L391.0,362.5 L393.5,363.1 L396.0,363.8 L398.5,364.4 L401.0,365.0 L403.5,365.6 L406.0,366.2 L408.5,366.9 L411.0,367.5 L413.5,368.1 L416.0,368.8 L418.5,369.4 L421.0,370.1 L423.5,370.8 L426.0,371.4 L428.5,372.1 L431.0,372.8 L433.5,373.5 L436.0,374.2 L438.5,375.0 L441.0,375.7 L443.5,376.4 L446.0,377.2 L448.5,377.9 L451.0,378.7 L453.5,379.5 L456.0,380.3 L458.5,381.1 L461.0,381.9 L463.5,382.7 L466.0,383.5 L468.5,384.3 L471.0,385.2 L473.5,386.0 L476.0,386.9 L478.5,387.8 L481.0,388.7 L483.5,389.6 L486.0,390.5 L488.6,391.4 L491.1,392.3 L493.6,393.2 L496.1,394.2 L498.6,395.1 L501.1,396.1 L503.6,397.1 L506.1,398.0 L508.6,399.0 L511.1,400.0 L513.6,401.0 L516.1,402.0 L518.6,403.0 L521.1,404.0 L523.6,405.1 L526.1,406.1 L528.6,407.1 L531.1,408.2 L533.6,409.2 L536.0,410.3 L538.5,411.3 L541.0,412.4 L543.5,413.4 L546.0,414.5 L548.5,415.6 L551.0,416.6 L553.5,417.7 L556.0,418.8 L558.5,419.9 L561.0,420.9 L563.5,422.0 L566.0,423.1 L568.5,424.2 L571.0,425.3 L573.5,426.3 L576.0,427.4 L578.4,428.5 L580.9,429.6 L583.4,430.7 L585.9,431.7 L588.4,432.8 L590.9,433.9 L593.4,434.9 L595.9,436.0 L598.4,437.0 L600.9,438.1 L603.3,439.1 L605.8,440.2 L608.3,441.2 L610.8,442.3 L613.3,443.3 L615.8,444.3 L618.3,445.3 L620.7,446.3 L623.2,447.3 L625.7,448.3 L628.2,449.3 L630.7,450.3 L633.2,451.3 L635.7,452.2 L638.1,453.2 L640.6,454.2 L643.1,455.1 L645.6,456.0 L648.1,456.9 L650.6,457.9 L653.0,458.8 L655.5,459.7 L658.0,460.5 L660.5,461.4 L663.0,462.3 L665.4,463.1 L667.9,464.0 L670.4,464.8 L672.9,465.7 L675.4,466.5 L677.9,467.3 L680.3,468.1 L682.8,468.9 L685.3,469.6 L687.8,470.4 L690.3,471.2 L692.7,471.9 L695.2,472.7 L697.7,473.4 L700.2,474.1 L702.7,474.8 L705.1,475.5 L707.6,476.2 L710.1,476.9 L712.6,477.6 L715.1,478.3 L717.6,478.9 L720.0,479.6 L722.5,480.2 L725.0,480.9"/>
<path d="M360.3,358.4 L362.7,359.4 L365.1,360.4 L367.5,361.4 L369.9,362.4 L372.3,363.4 L374.7,364.4 L377.1,365.4 L379.5,366.3 L382.0,367.1 L384.4,367.7 L386.9,368.4 L389.4,369.0 L391.9,369.6 L394.4,370.2 L396.9,370.8 L399.4,371.4 L401.9,372.0 L404.4,372.6 L406.8,373.3 L409.3,373.9 L411.8,374.5 L414.3,375.2 L416.8,375.8 L419.3,376.5 L421.8,377.1 L424.2,377.8 L426.7,378.5 L429.2,379.2 L431.7,379.9 L434.2,380.6 L436.6,381.3 L439.1,382.0 L441.6,382.8 L444.1,383.5 L446.6,384.2 L449.1,385.0 L451.5,385.8 L454.0,386.6 L456.5,387.3 L459.0,388.1 L461.5,389.0 L463.9,389.8 L466.4,390.6 L468.9,391.4 L471.4,392.3 L473.9,393.1 L476.3,394.0 L478.8,394.9 L481.3,395.8 L483.8,396.7 L486.3,397.6 L488.8,398.5 L491.2,399.4 L493.7,400.4 L496.2,401.3 L498.7,402.3 L501.2,403.2 L503.7,404.2 L506.1,405.2 L508.6,406.1 L511.1,407.1 L513.6,408.1 L516.1,409.1 L518.6,410.1 L521.1,411.2 L523.5,412.2 L526.0,413.2 L528.5,414.3 L531.0,415.3 L533.5,416.3 L536.0,417.4 L538.5,418.4 L541.0,419.5 L543.4,420.6 L545.9,421.6 L548.4,422.7 L550.9,423.8 L553.4,424.8 L555.9,425.9 L558.4,427.0 L560.9,428.1 L563.4,429.2 L565.9,430.2 L568.3,431.3 L570.8,432.4 L573.3,433.5 L575.8,434.6 L578.3,435.6 L580.8,436.7 L583.3,437.8 L585.8,438.9 L588.3,439.9 L590.8,441.0 L593.3,442.1 L595.8,443.1 L598.3,444.2 L600.8,445.2 L603.3,446.3 L605.8,447.3 L608.3,448.4 L610.8,449.4 L613.3,450.4 L615.8,451.4 L618.3,452.5 L620.8,453.5 L623.3,454.5 L625.8,455.5 L628.3,456.5 L630.8,457.4 L633.3,458.4 L635.8,459.4 L638.3,460.3 L640.8,461.3 L643.3,462.2 L645.8,463.1 L648.3,464.1 L650.8,465.0 L653.3,465.9 L655.8,466.8 L658.3,467.6 L660.8,468.5 L663.3,469.4 L665.8,470.2 L668.3,471.1 L670.8,471.9 L673.3,472.7 L675.8,473.6 L678.3,474.4 L680.8,475.2 L683.3,475.9 L685.8,476.7 L688.3,477.5 L690.8,478.2 L693.3,479.0 L695.8,479.7 L698.4,480.5 L700.9,481.2 L703.4,481.9 L705.9,482.6 L708.4,483.3 L710.9,484.0 L713.4,484.6 L715.9,485.3 L718.4,486.0 L720.9,486.6 L723.4,487.3"/>
<path d="M365.1,360.2 L367.6,360.9 L370.1,361.5 L372.6,362.1 L375.1,362.7 L377.6,363.3 L380.1,363.9 L382.6,364.5 L385.1,365.1 L387.6,365.7 L390.1,366.3 L392.6,366.9 L395.1,367.5 L397.5,368.2 L400.0,368.8 L402.5,369.4 L405.0,370.0 L407.5,370.6 L410.0,371.3 L412.5,371.9 L415.0,372.6 L417.5,373.2 L420.0,373.9 L422.5,374.5 L424.9,375.2 L427.4,375.9 L429.9,376.6 L432.4,377.3 L434.9,378.0 L437.4,378.7 L439.9,379.4 L442.4,380.2 L444.9,380.9 L447.4,381.7 L449.8,382.4 L452.3,383.2 L454.8,384.0 L457.3,384.8 L459.8,385.6 L462.3,386.4 L464.8,387.2 L467.3,388.0 L469.8,388.9 L472.3,389.7 L474.8,390.6 L477.2,391.5 L479.7,392.4 L482.2,393.2 L484.7,394.1 L487.2,395.1 L489.7,396.0 L492.2,396.9 L494.7,397.8 L497.2,398.8 L499.7,399.7 L502.2,400.7 L504.6,401.7 L507.1,402.6 L509.6,403.6 L512.1,404.6 L514.6,405.6 L517.1,406.6 L519.6,407.6 L522.1,408.7 L524.6,409.7 L527.1,410.7 L529.6,411.8 L532.0,412.8 L534.5,413.8 L537.0,414.9 L539.5,416.0 L542.0,417.0 L544.5,418.1 L547.0,419.1 L549.5,420.2 L552.0,421.3 L554.5,422.4 L557.0,423.4 L559.5,424.5 L561.9,425.6 L564.4,426.7 L566.9,427.8 L569.4,428.8 L571.9,429.9 L574.4,431.0 L576.9,432.1" stroke-width="1"/>
<path d="M378.0,361.8 L380.5,362.4 L383.0,363.0 L385.5,363.6 L388.0,364.2 L390.4,364.8 L392.9,365.4 L395.4,366.0 L397.9,366.6 L400.4,367.2 L402.9,367.8 L405.4,368.5 L407.9,369.1 L410.4,369.7 L412.9,370.4 L415.4,371.0 L417.9,371.7 L420.4,372.3 L422.9,373.0 L425.4,373.7 L427.9,374.3 L430.4,375.0 L432.9,375.7 L435.3,376.4 L437.8,377.2 L440.3,377.9 L442.8,378.6 L445.3,379.4 L447.8,380.1 L450.3,380.9 L452.8,381.7 L455.3,382.5 L457.8,383.2 L460.3,384.1 L462.8,384.9 L465.3,385.7 L467.8,386.5 L470.3,387.4 L472.8,388.2 L475.3,389.1 L477.8,390.0 L480.3,390.8 L482.8,391.7 L485.3,392.6 L487.8,393.5 L490.3,394.5 L492.7,395.4 L495.2,396.3 L497.7,397.3 L500.2,398.2 L502.7,399.2 L505.2,400.2 L507.7,401.2 L510.2,402.1 L512.7,403.1 L515.2,404.1 L517.7,405.1 L520.2,406.2 L522.7,407.2 L525.2,408.2 L527.7,409.2 L530.2,410.3 L532.7,411.3 L535.2,412.4 L537.7,413.4 L540.1,414.5" stroke-width="1"/>
<use href="#conn" transform="translate(751.30,491.10) rotate(14.5)"/>
<path d="M373.7,369.3 L376.4,370.0 L379.0,370.7 L381.7,371.4 L384.3,372.0 L387.0,372.7 L389.6,373.4 L392.3,374.1 L394.9,374.8 L397.4,375.8 L399.9,376.8 L402.5,377.9 L405.0,379.0 L407.5,380.1 L410.0,381.2 L412.5,382.3 L415.0,383.4 L417.5,384.6 L420.0,385.8 L422.6,386.9 L425.1,388.1 L427.6,389.4 L430.1,390.6 L432.6,391.9 L435.1,393.1 L437.7,394.4 L440.2,395.8 L442.7,397.1 L445.2,398.5 L447.7,399.8 L450.3,401.2 L452.8,402.7 L455.3,404.1 L457.8,405.6 L460.3,407.1 L462.8,408.6 L465.4,410.1 L467.9,411.6 L470.4,413.2 L472.9,414.8 L475.4,416.4 L477.9,418.0 L480.4,419.7 L483.0,421.4 L485.5,423.0 L488.0,424.7 L490.5,426.5 L493.0,428.2 L495.5,429.9 L498.0,431.7 L500.5,433.5 L503.0,435.3 L505.5,437.1 L508.1,438.9 L510.6,440.7 L513.1,442.5 L515.6,444.4 L518.1,446.2 L520.6,448.1 L523.1,450.0 L525.6,451.8 L528.1,453.7 L530.6,455.6 L533.1,457.5 L535.6,459.4 L538.1,461.2 L540.6,463.1 L543.1,465.0 L545.6,466.9 L548.1,468.8 L550.6,470.6 L553.1,472.5 L555.6,474.4 L558.1,476.2 L560.6,478.1 L563.1,479.9 L565.6,481.7 L568.0,483.6 L570.5,485.4 L573.0,487.2 L575.5,488.9 L578.0,490.7 L580.5,492.5 L583.0,494.2 L585.5,495.9 L588.0,497.6 L590.4,499.3 L592.9,501.0 L595.4,502.6 L597.9,504.2 L600.4,505.8 L602.9,507.4 L605.4,508.9 L607.8,510.5 L610.3,512.0 L612.8,513.5 L615.3,514.9 L617.8,516.4 L620.2,517.8 L622.7,519.2 L625.2,520.5 L627.7,521.8 L630.1,523.1 L632.6,524.4 L635.1,525.7 L637.6,526.9 L640.0,528.1 L642.5,529.2 L645.0,530.4 L647.4,531.5 L649.9,532.6 L652.4,533.6 L654.9,534.6 L657.3,535.6 L659.8,536.6 L662.3,537.6 L664.8,538.5 L667.2,539.4 L669.7,540.3 L672.2,541.1 L674.7,541.9 L677.1,542.7 L679.6,543.5 L682.1,544.3 L684.6,545.0 L687.0,545.8 L689.5,546.5 L692.0,547.2 L694.5,547.8 L697.0,548.5 L699.5,549.2 L701.9,549.8 L704.4,550.4 L706.9,551.1"/>
<path d="M373.7,369.3 L376.0,370.7 L378.4,372.1 L380.7,373.5 L383.1,375.0 L385.4,376.4 L387.8,377.8 L390.1,379.2 L392.5,380.6 L395.0,381.7 L397.4,382.7 L399.9,383.8 L402.4,384.9 L404.9,385.9 L407.4,387.0 L409.9,388.2 L412.4,389.3 L414.9,390.4 L417.3,391.6 L419.8,392.7 L422.3,393.9 L424.8,395.1 L427.3,396.3 L429.8,397.6 L432.2,398.8 L434.7,400.1 L437.2,401.4 L439.7,402.7 L442.2,404.1 L444.6,405.4 L447.1,406.8 L449.6,408.2 L452.1,409.6 L454.6,411.1 L457.0,412.6 L459.5,414.0 L462.0,415.6 L464.5,417.1 L467.0,418.6 L469.5,420.2 L472.0,421.8 L474.4,423.4 L476.9,425.0 L479.4,426.7 L481.9,428.4 L484.4,430.0 L486.9,431.7 L489.4,433.5 L491.8,435.2 L494.3,436.9 L496.8,438.7 L499.3,440.5 L501.8,442.3 L504.3,444.1 L506.8,445.9 L509.3,447.7 L511.8,449.5 L514.3,451.4 L516.8,453.2 L519.3,455.1 L521.8,457.0 L524.3,458.8 L526.8,460.7 L529.2,462.6 L531.7,464.5 L534.2,466.4 L536.7,468.2 L539.2,470.1 L541.7,472.0 L544.2,473.9 L546.8,475.8 L549.3,477.6 L551.8,479.5 L554.3,481.4 L556.8,483.2 L559.3,485.1 L561.8,486.9 L564.3,488.7 L566.8,490.6 L569.3,492.4 L571.8,494.2 L574.3,495.9 L576.8,497.7 L579.3,499.4 L581.9,501.2 L584.4,502.9 L586.9,504.6 L589.4,506.3 L591.9,507.9 L594.4,509.6 L596.9,511.2 L599.5,512.8 L602.0,514.4 L604.5,515.9 L607.0,517.5 L609.5,519.0 L612.0,520.5 L614.6,521.9 L617.1,523.4 L619.6,524.8 L622.1,526.1 L624.7,527.5 L627.2,528.8 L629.7,530.1 L632.2,531.4 L634.8,532.6 L637.3,533.9 L639.8,535.0 L642.3,536.2 L644.9,537.3 L647.4,538.4 L649.9,539.5 L652.4,540.6 L655.0,541.6 L657.5,542.6 L660.0,543.6 L662.5,544.5 L665.1,545.4 L667.6,546.3 L670.1,547.2 L672.6,548.0 L675.2,548.8 L677.7,549.6 L680.2,550.4 L682.7,551.2 L685.3,551.9 L687.8,552.6 L690.3,553.3 L692.8,554.0 L695.3,554.7 L697.8,555.4 L700.3,556.0 L702.9,556.6 L705.4,557.3"/>
<path d="M384.1,372.6 L386.6,373.6 L389.1,374.7 L391.6,375.7 L394.1,376.7 L396.6,377.8 L399.1,378.9 L401.6,379.9 L404.1,381.0 L406.6,382.1 L409.1,383.2 L411.6,384.3 L414.1,385.4 L416.6,386.6 L419.1,387.8 L421.6,388.9 L424.1,390.1 L426.6,391.3 L429.1,392.6 L431.6,393.8 L434.1,395.1 L436.7,396.4 L439.2,397.7 L441.7,399.0 L444.2,400.4 L446.7,401.8 L449.2,403.2 L451.7,404.6 L454.2,406.0 L456.7,407.5 L459.2,408.9 L461.7,410.5 L464.2,412.0 L466.7,413.5 L469.2,415.1 L471.7,416.7" stroke-width="1"/>
<path d="M505.6,442.3 L508.1,444.1 L510.6,445.9 L513.1,447.8 L515.6,449.6 L518.1,451.5 L520.6,453.3 L523.1,455.2 L525.6,457.1 L528.1,458.9 L530.6,460.8 L533.1,462.7 L535.6,464.6 L538.1,466.5 L540.6,468.4 L543.1,470.2 L545.6,472.1 L548.1,474.0 L550.6,475.9 L553.1,477.7 L555.6,479.6 L558.1,481.4 L560.6,483.3 L563.1,485.1 L565.6,487.0 L568.1,488.8 L570.6,490.6" stroke-width="1"/>
<use href="#conn" transform="translate(733.30,561.00) rotate(14.1)"/>
<path d="M333.1,354.6 L335.7,355.3 L338.2,356.0 L340.7,356.7 L343.3,357.4 L345.8,358.3 L348.4,359.1 L350.9,360.0 L353.5,361.0 L356.0,362.0 L358.5,363.0 L361.1,364.1 L363.6,365.2 L366.1,366.4 L368.7,367.6 L371.2,368.9 L373.8,370.2 L376.3,371.6 L378.8,373.0 L381.3,374.4 L383.9,375.9 L386.4,377.5 L388.9,379.1 L391.5,380.7 L394.0,382.4 L396.5,384.1 L399.0,385.8 L401.6,387.6 L404.1,389.5 L406.6,391.4 L409.1,393.3 L411.6,395.2 L414.2,397.2 L416.7,399.3 L419.2,401.3 L421.7,403.5 L424.2,405.6 L426.7,407.8 L429.2,410.0 L431.8,412.2 L434.3,414.5 L436.8,416.8 L439.3,419.1 L441.8,421.5 L444.3,423.9 L446.8,426.3 L449.3,428.8 L451.8,431.2 L454.3,433.7 L456.8,436.2 L459.3,438.8 L461.8,441.3 L464.3,443.9 L466.8,446.5 L469.3,449.1 L471.8,451.7 L474.3,454.4 L476.8,457.0 L479.3,459.7 L481.8,462.3 L484.3,465.0 L486.8,467.7 L489.3,470.4 L491.8,473.1 L494.3,475.8 L496.8,478.6 L499.3,481.3 L501.8,484.0 L504.3,486.7 L506.8,489.4 L509.3,492.2 L511.8,494.9 L514.3,497.6 L516.8,500.3 L519.3,503.0 L521.8,505.7 L524.3,508.3 L526.8,511.0 L529.3,513.7 L531.7,516.3 L534.2,518.9 L536.7,521.5 L539.2,524.1 L541.7,526.7 L544.2,529.3 L546.7,531.8 L549.2,534.3 L551.7,536.8 L554.1,539.3 L556.6,541.8 L559.1,544.2 L561.6,546.6 L564.1,549.0 L566.6,551.3 L569.0,553.7 L571.5,556.0 L574.0,558.2 L576.5,560.4 L579.0,562.6 L581.4,564.8 L583.9,567.0 L586.4,569.1 L588.9,571.1 L591.4,573.2 L593.8,575.2 L596.3,577.1 L598.8,579.0 L601.2,580.9 L603.7,582.8 L606.2,584.6 L608.7,586.4 L611.1,588.1 L613.6,589.8 L616.1,591.5 L618.5,593.1 L621.0,594.7 L623.5,596.2 L625.9,597.7 L628.4,599.2 L630.9,600.6 L633.3,602.0 L635.8,603.3 L638.3,604.6 L640.7,605.9 L643.2,607.1 L645.6,608.3 L648.1,609.4 L650.6,610.5 L653.0,611.6 L655.5,612.6 L657.9,613.6 L660.4,614.6 L662.9,615.5 L665.3,616.4 L667.8,617.3 L670.3,618.1 L672.7,618.9 L675.2,619.7 L677.6,620.4 L680.1,621.1 L682.6,621.8 L685.0,622.4 L687.5,623.1"/>
<path d="M287.5,355.7 L290.0,355.7 L292.4,355.7 L294.9,355.8 L297.4,355.9 L299.8,356.0 L302.3,356.1 L304.7,356.3 L307.2,356.5 L309.7,356.7 L312.1,357.0 L314.6,357.3 L317.0,357.6 L319.5,358.0 L321.9,358.4 L324.4,358.9 L326.8,359.4 L329.3,359.9 L331.7,360.5 L334.2,361.1 L336.6,361.7 L339.1,362.4 L341.5,363.2 L344.0,364.0 L346.4,364.8 L348.9,365.7 L351.3,366.6 L353.8,367.5 L356.2,368.5 L358.7,369.6 L361.1,370.7 L363.6,371.8 L366.0,373.0 L368.5,374.2 L370.9,375.5 L373.4,376.8 L375.9,378.2 L378.3,379.6 L380.8,381.1 L383.2,382.6 L385.7,384.1 L388.2,385.7 L390.6,387.4 L393.1,389.0 L395.6,390.7 L398.0,392.5 L400.5,394.3 L403.0,396.2 L405.5,398.0 L407.9,400.0 L410.4,401.9 L412.9,403.9 L415.3,406.0 L417.8,408.0 L420.3,410.2 L422.8,412.3 L425.3,414.5 L427.7,416.7 L430.2,418.9 L432.7,421.2 L435.2,423.5 L437.7,425.9 L440.1,428.2 L442.6,430.6 L445.1,433.0 L447.6,435.5 L450.1,438.0 L452.6,440.5 L455.1,443.0 L457.5,445.5 L460.0,448.1 L462.5,450.6 L465.0,453.2 L467.5,455.8 L470.0,458.5 L472.5,461.1 L475.0,463.8 L477.5,466.4 L480.0,469.1 L482.4,471.8 L484.9,474.5 L487.4,477.2 L489.9,479.9 L492.4,482.6 L494.9,485.3 L497.4,488.1 L499.9,490.8 L502.4,493.5 L504.9,496.2 L507.4,498.9 L509.9,501.6 L512.4,504.3 L514.9,507.1 L517.4,509.7 L519.9,512.4 L522.4,515.1 L524.9,517.8 L527.4,520.4 L529.9,523.1 L532.4,525.7 L534.9,528.3 L537.4,530.9 L539.9,533.5 L542.4,536.0 L544.9,538.6 L547.4,541.1 L549.9,543.6 L552.4,546.1 L554.9,548.5 L557.4,550.9 L559.9,553.3 L562.4,555.7 L565.0,558.1 L567.5,560.4 L570.0,562.7 L572.5,564.9 L575.0,567.1 L577.5,569.3 L580.0,571.5 L582.5,573.6 L585.0,575.7 L587.6,577.8 L590.1,579.8 L592.6,581.8 L595.1,583.8 L597.6,585.7 L600.1,587.6 L602.7,589.4 L605.2,591.3 L607.7,593.0 L610.2,594.8 L612.8,596.5 L615.3,598.1 L617.8,599.7 L620.3,601.3 L622.8,602.8 L625.4,604.3 L627.9,605.8 L630.4,607.2 L633.0,608.6 L635.5,609.9 L638.0,611.2 L640.5,612.5 L643.1,613.7 L645.6,614.9 L648.1,616.0 L650.7,617.1 L653.2,618.2 L655.7,619.2 L658.3,620.2 L660.8,621.1 L663.3,622.1 L665.8,623.0 L668.4,623.8 L670.9,624.6 L673.4,625.4 L676.0,626.2 L678.5,626.9 L681.0,627.6 L683.5,628.2 L686.0,628.9"/>
<path d="M335.2,357.2 L337.7,357.9 L340.2,358.6 L342.7,359.4 L345.2,360.2 L347.7,361.0 L350.2,361.9 L352.7,362.8 L355.3,363.8 L357.8,364.8 L360.3,365.9 L362.8,367.0 L365.3,368.2 L367.8,369.4 L370.3,370.7 L372.8,372.0 L375.3,373.3 L377.8,374.7 L380.3,376.2 L382.8,377.7 L385.4,379.2 L387.9,380.8 L390.4,382.4 L392.9,384.0 L395.4,385.7 L397.9,387.5 L400.4,389.3 L402.9,391.1 L405.4,393.0 L407.9,394.9 L410.4,396.8 L412.9,398.8 L415.4,400.8 L417.9,402.9 L420.4,405.0 L422.9,407.1 L425.4,409.3 L427.9,411.5 L430.4,413.7 L432.9,416.0 L435.4,418.3 L437.9,420.6 L440.4,423.0 L442.9,425.3 L445.4,427.7 L447.9,430.2 L450.4,432.6 L452.9,435.1 L455.4,437.6 L457.9,440.2 L460.4,442.7 L462.9,445.3 L465.4,447.9 L467.9,450.5 L470.4,453.1 L472.9,455.7 L475.4,458.4 L477.9,461.0 L480.4,463.7 L482.9,466.4 L485.4,469.1 L487.9,471.8 L490.4,474.5 L492.9,477.2 L495.4,479.9 L497.9,482.6 L500.4,485.4 L502.9,488.1 L505.3,490.8 L507.8,493.5 L510.3,496.2 L512.8,498.9 L515.3,501.6 L517.8,504.3 L520.3,507.0 L522.8,509.7 L525.3,512.4 L527.8,515.0 L530.3,517.7 L532.8,520.3" stroke-width="1"/>
<path d="M367.0,371.0 L369.5,372.3 L372.0,373.6 L374.5,374.9 L376.9,376.3 L379.4,377.7 L381.9,379.2 L384.4,380.7 L386.9,382.3 L389.4,383.9 L391.9,385.5 L394.4,387.2 L396.8,389.0 L399.3,390.7 L401.8,392.5 L404.3,394.4 L406.8,396.3 L409.3,398.2 L411.8,400.2 L414.3,402.2 L416.8,404.3 L419.2,406.4 L421.7,408.5 L424.2,410.6 L426.7,412.8 L429.2,415.1 L431.7,417.3 L434.2,419.6 L436.7,421.9 L439.2,424.3 L441.7,426.6 L444.2,429.0 L446.7,431.5 L449.1,433.9 L451.6,436.4 L454.1,438.9 L456.6,441.4 L459.1,444.0 L461.6,446.5 L464.1,449.1" stroke-width="1"/>
<use href="#conn" transform="translate(713.95,632.75) rotate(14.0)"/>
</g>
<text x="618.9" y="57.0" font-size="12" textLength="80" lengthAdjust="spacingAndGlyphs">A=Red(18Ga.)</text>
<text x="618.9" y="68.6" font-size="12" textLength="89" lengthAdjust="spacingAndGlyphs">B=White(18Ga.)</text>
<text x="804.0" y="123.0" font-size="12" textLength="77.5" lengthAdjust="spacingAndGlyphs">A=Red(18Ga.)</text>
<text x="804.0" y="138.1" font-size="12" textLength="89" lengthAdjust="spacingAndGlyphs">B=Green(18Ga.)</text>
<text x="822.2" y="190.1" font-size="12" textLength="80" lengthAdjust="spacingAndGlyphs">A=Red(18Ga.)</text>
<text x="822.2" y="201.5" font-size="12" textLength="89" lengthAdjust="spacingAndGlyphs">B=White(18Ga.)</text>
<text x="830.4" y="274.5" font-size="12" textLength="77.5" lengthAdjust="spacingAndGlyphs">A=Red(18Ga.)</text>
<text x="830.4" y="290.2" font-size="12" textLength="89" lengthAdjust="spacingAndGlyphs">B=Green(18Ga.)</text>
<text x="830.1" y="344.4" font-size="12" textLength="80" lengthAdjust="spacingAndGlyphs">A=Red(18Ga.)</text>
<text x="830.1" y="356.5" font-size="12" textLength="89" lengthAdjust="spacingAndGlyphs">B=White(18Ga.)</text>
<text x="822.5" y="409.5" font-size="12" textLength="77.5" lengthAdjust="spacingAndGlyphs">A=Red(18Ga.)</text>
<text x="822.5" y="424.7" font-size="12" textLength="89" lengthAdjust="spacingAndGlyphs">B=Green(18Ga.)</text>
<text x="661.2" y="506.4" font-size="12" textLength="80" lengthAdjust="spacingAndGlyphs">A=Red(18Ga.)</text>
<text x="661.2" y="517.3" font-size="12" textLength="89" lengthAdjust="spacingAndGlyphs">B=White(18Ga.)</text>
<text x="639.3" y="573.3" font-size="12" textLength="77.5" lengthAdjust="spacingAndGlyphs">A=Red(18Ga.)</text>
<text x="639.3" y="588.0" font-size="12" textLength="89" lengthAdjust="spacingAndGlyphs">B=Green(18Ga.)</text>
<text x="682.5" y="674.6" font-size="12" textLength="80" lengthAdjust="spacingAndGlyphs">A=Red(18Ga.)</text>
<text x="682.5" y="685.6" font-size="12" textLength="89" lengthAdjust="spacingAndGlyphs">B=White(18Ga.)</text>
<line x1="557.0" y1="108.5" x2="582.0" y2="134.0" stroke-width="0.9" stroke="#000"/>
<path d="M586.2,138.8 L578.6,133.6 L581.3,131.0 Z" fill="#000" stroke="none"/>
<circle cx="547.6" cy="97.8" r="13.3" fill="#fff" stroke="#000" stroke-width="0.9"/>
<text x="547.6" y="102.1" font-size="12" text-anchor="middle">14</text>
<line x1="723.0" y1="320.0" x2="768.0" y2="335.5" stroke-width="0.9" stroke="#000"/>
<circle cx="655.3" cy="314.8" r="13.3" fill="#fff" stroke="#000" stroke-width="0.9"/>
<text x="655.3" y="319.1" font-size="12" text-anchor="middle">6</text>
<circle cx="682.7" cy="314.8" r="13.3" fill="#fff" stroke="#000" stroke-width="0.9"/>
<text x="682.7" y="319.1" font-size="12" text-anchor="middle">2</text>
<circle cx="709.8" cy="314.8" r="13.3" fill="#fff" stroke="#000" stroke-width="0.9"/>
<text x="709.8" y="319.1" font-size="12" text-anchor="middle">5</text>
<line x1="857.3" y1="436.7" x2="1170.0" y2="436.7" stroke-width="1.1" stroke="#555"/>
<line x1="857.3" y1="452.9" x2="1170.0" y2="452.9" stroke-width="1.1" stroke="#555"/>
<line x1="857.3" y1="467.7" x2="1170.0" y2="467.7" stroke-width="1.1" stroke="#555"/>
<line x1="857.3" y1="483.4" x2="1170.0" y2="483.4" stroke-width="1.1" stroke="#555"/>
<line x1="857.3" y1="498.8" x2="1170.0" y2="498.8" stroke-width="1.1" stroke="#555"/>
<line x1="857.3" y1="514.1" x2="1170.0" y2="514.1" stroke-width="1.1" stroke="#555"/>
<line x1="857.3" y1="529.8" x2="1170.0" y2="529.8" stroke-width="1.1" stroke="#555"/>
<line x1="857.3" y1="545.4" x2="1170.0" y2="545.4" stroke-width="1.1" stroke="#555"/>
<line x1="857.3" y1="560.8" x2="1170.0" y2="560.8" stroke-width="1.1" stroke="#555"/>
<line x1="857.3" y1="576.4" x2="1170.0" y2="576.4" stroke-width="1.1" stroke="#555"/>
<line x1="857.3" y1="591.8" x2="1170.0" y2="591.8" stroke-width="1.1" stroke="#555"/>
<line x1="857.3" y1="607.1" x2="1170.0" y2="607.1" stroke-width="1.1" stroke="#555"/>
<line x1="857.3" y1="622.8" x2="1170.0" y2="622.8" stroke-width="1.1" stroke="#555"/>
<line x1="857.3" y1="636.3" x2="1170.0" y2="636.3" stroke-width="1.1" stroke="#555"/>
<line x1="857.3" y1="436.7" x2="857.3" y2="636.3" stroke-width="1.1" stroke="#555"/>
<line x1="879.7" y1="436.7" x2="879.7" y2="636.3" stroke-width="1.1" stroke="#555"/>
<line x1="974.6" y1="436.7" x2="974.6" y2="636.3" stroke-width="1.1" stroke="#555"/>
<line x1="1141.7" y1="436.7" x2="1141.7" y2="636.3" stroke-width="1.1" stroke="#555"/>
<text x="868.5" y="448.9" font-size="12" text-anchor="middle">12</text>
<text x="931.5" y="448.9" font-size="12" text-anchor="middle" textLength="65.5" lengthAdjust="spacingAndGlyphs">708000-175</text>
<text x="981.3" y="449.7" font-size="12" textLength="103.9" lengthAdjust="spacingAndGlyphs">Wire, 18 Ga. White</text>
<text x="1165.5" y="449.7" font-size="12" text-anchor="end">75</text>
<text x="872.0" y="465.1" font-size="12" text-anchor="middle">11</text>
<text x="931.5" y="465.1" font-size="12" text-anchor="middle" textLength="65.5" lengthAdjust="spacingAndGlyphs">708000-174</text>
<text x="981.3" y="465.9" font-size="12" textLength="106.6" lengthAdjust="spacingAndGlyphs">Wire, 18 Ga. Green</text>
<text x="1165.5" y="465.9" font-size="12" text-anchor="end">58</text>
<text x="873.0" y="479.9" font-size="12" text-anchor="middle">10</text>
<text x="931.5" y="479.9" font-size="12" text-anchor="middle" textLength="65.5" lengthAdjust="spacingAndGlyphs">708000-176</text>
<text x="981.3" y="480.7" font-size="12" textLength="95.0" lengthAdjust="spacingAndGlyphs">Wire, 18 Ga. Red</text>
<text x="1165.5" y="480.7" font-size="12" text-anchor="end">153</text>
<text x="871.5" y="495.6" font-size="12" text-anchor="middle">9</text>
<text x="931.5" y="495.6" font-size="12" text-anchor="middle" textLength="65.5" lengthAdjust="spacingAndGlyphs">708000-163</text>
<text x="981.3" y="496.4" font-size="12" textLength="103.9" lengthAdjust="spacingAndGlyphs">Wire, 16 Ga. White</text>
<text x="1165.5" y="496.4" font-size="12" text-anchor="end">12</text>
<text x="871.5" y="511.0" font-size="12" text-anchor="middle">8</text>
<text x="931.5" y="511.0" font-size="12" text-anchor="middle" textLength="65.5" lengthAdjust="spacingAndGlyphs">708000-171</text>
<text x="981.3" y="511.8" font-size="12" textLength="106.6" lengthAdjust="spacingAndGlyphs">Wire, 16 Ga. Green</text>
<text x="1165.5" y="511.8" font-size="12" text-anchor="end">12</text>
<text x="871.5" y="526.3" font-size="12" text-anchor="middle">7</text>
<text x="931.5" y="526.3" font-size="12" text-anchor="middle" textLength="65.5" lengthAdjust="spacingAndGlyphs">708000-157</text>
<text x="981.3" y="527.1" font-size="12" textLength="95.0" lengthAdjust="spacingAndGlyphs">Wire, 14 Ga. Red</text>
<text x="1165.5" y="527.1" font-size="12" text-anchor="end">12</text>
<text x="871.5" y="542.0" font-size="12" text-anchor="middle">6</text>
<text x="931.5" y="542.0" font-size="12" text-anchor="middle" textLength="65.5" lengthAdjust="spacingAndGlyphs">706530-205</text>
<text x="981.3" y="542.8" font-size="12" textLength="129.2" lengthAdjust="spacingAndGlyphs">Terminal Pin, 16-18 Ga.</text>
<text x="1165.5" y="542.8" font-size="12" text-anchor="end">18</text>
<text x="871.5" y="557.6" font-size="12" text-anchor="middle">5</text>
<text x="931.5" y="557.6" font-size="12" text-anchor="middle" textLength="65.5" lengthAdjust="spacingAndGlyphs">706510-502</text>
<text x="981.3" y="558.4" font-size="12" textLength="101.2" lengthAdjust="spacingAndGlyphs">Shroud, 2 Pin, WP</text>
<text x="1165.5" y="558.4" font-size="12" text-anchor="end">9</text>
<text x="871.5" y="573.0" font-size="12" text-anchor="middle">4</text>
<text x="931.5" y="573.0" font-size="12" text-anchor="middle" textLength="65.5" lengthAdjust="spacingAndGlyphs">706530-210</text>
<text x="981.3" y="573.8" font-size="12" textLength="145.6" lengthAdjust="spacingAndGlyphs">Terminal Socket 14-16 Ga.</text>
<text x="1165.5" y="573.8" font-size="12" text-anchor="end">3</text>
<text x="871.5" y="588.6" font-size="12" text-anchor="middle">3</text>
<text x="931.5" y="588.6" font-size="12" text-anchor="middle" textLength="65.5" lengthAdjust="spacingAndGlyphs">706500-002</text>
<text x="981.3" y="589.4" font-size="12" textLength="130.6" lengthAdjust="spacingAndGlyphs">Seal, Wire, 14 Ga. Gray</text>
<text x="1165.5" y="589.4" font-size="12" text-anchor="end">1</text>
<text x="871.5" y="604.0" font-size="12" text-anchor="middle">2</text>
<text x="931.5" y="604.0" font-size="12" text-anchor="middle" textLength="65.5" lengthAdjust="spacingAndGlyphs">706500-001</text>
<text x="981.3" y="604.8" font-size="12" textLength="155.9" lengthAdjust="spacingAndGlyphs">Seal, Wire, 16-18 Ga. Green</text>
<text x="1165.5" y="604.8" font-size="12" text-anchor="end">20</text>
<text x="871.5" y="619.3" font-size="12" text-anchor="middle">1</text>
<text x="931.5" y="619.3" font-size="12" text-anchor="middle" textLength="65.5" lengthAdjust="spacingAndGlyphs">706500-503</text>
<text x="981.3" y="620.1" font-size="12" textLength="93.7" lengthAdjust="spacingAndGlyphs">Tower, 3 Pin, WP</text>
<text x="1165.5" y="620.1" font-size="12" text-anchor="end">1</text>
<text x="868.5" y="632.7" font-size="9.5" text-anchor="middle" font-weight="bold" fill="#222" textLength="21" lengthAdjust="spacingAndGlyphs">Item</text>
<text x="927.0" y="632.7" font-size="9.5" text-anchor="middle" font-weight="bold" fill="#222" textLength="63" lengthAdjust="spacingAndGlyphs">Part Number</text>
<text x="1058.0" y="632.7" font-size="9.5" text-anchor="middle" font-weight="bold" fill="#222" textLength="57" lengthAdjust="spacingAndGlyphs">Description</text>
<text x="1156.0" y="632.7" font-size="9.5" text-anchor="middle" font-weight="bold" fill="#222" textLength="17" lengthAdjust="spacingAndGlyphs">Qty</text>
<line x1="544.4" y1="711.1" x2="857.3" y2="711.1" stroke-width="1.1" stroke="#555"/>
<line x1="544.4" y1="726.4" x2="857.3" y2="726.4" stroke-width="1.1" stroke="#555"/>
<line x1="544.4" y1="742.2" x2="857.3" y2="742.2" stroke-width="1.1" stroke="#555"/>
<line x1="544.4" y1="711.1" x2="544.4" y2="756.1" stroke-width="1.1" stroke="#555"/>
<line x1="566.9" y1="711.1" x2="566.9" y2="756.1" stroke-width="1.1" stroke="#555"/>
<line x1="661.4" y1="711.1" x2="661.4" y2="756.1" stroke-width="1.1" stroke="#555"/>
<line x1="828.6" y1="711.1" x2="828.6" y2="756.1" stroke-width="1.1" stroke="#555"/>
<line x1="857.3" y1="711.1" x2="857.3" y2="756.1" stroke-width="1.1" stroke="#555"/>
<text x="553.6" y="722.6" font-size="12" text-anchor="middle">14</text>
<text x="615.4" y="722.6" font-size="12" text-anchor="middle" textLength="65.2" lengthAdjust="spacingAndGlyphs">708000-015</text>
<text x="664.2" y="722.6" font-size="12" textLength="45" lengthAdjust="spacingAndGlyphs">Braiding</text>
<text x="841.0" y="722.6" font-size="12" text-anchor="middle">.16</text>
<text x="553.6" y="738.2" font-size="12" text-anchor="middle">13</text>
<text x="615.4" y="738.2" font-size="12" text-anchor="middle" textLength="65.2" lengthAdjust="spacingAndGlyphs">708000-159</text>
<text x="662.0" y="738.2" font-size="12" textLength="141.6" lengthAdjust="spacingAndGlyphs">Tube, Shrink, 3/16 x 1-1/4</text>
<text x="841.0" y="738.2" font-size="12" text-anchor="middle">12</text>
<text x="555.6" y="752.8" font-size="9.5" text-anchor="middle" font-weight="bold" fill="#222" textLength="21" lengthAdjust="spacingAndGlyphs">Item</text>
<text x="614.0" y="752.8" font-size="9.5" text-anchor="middle" font-weight="bold" fill="#222" textLength="63" lengthAdjust="spacingAndGlyphs">Part Number</text>
<text x="745.0" y="752.8" font-size="9.5" text-anchor="middle" font-weight="bold" fill="#222" textLength="57" lengthAdjust="spacingAndGlyphs">Description</text>
<text x="842.8" y="752.8" font-size="9.5" text-anchor="middle" font-weight="bold" fill="#222" textLength="17" lengthAdjust="spacingAndGlyphs">Qty</text>
<line x1="857.3" y1="670.4" x2="1170.0" y2="670.4" stroke-width="1.1" stroke="#555"/>
<line x1="857.3" y1="679.9" x2="957.8" y2="679.9" stroke-width="1.1" stroke="#555"/>
<line x1="857.3" y1="690.7" x2="957.8" y2="690.7" stroke-width="1.1" stroke="#555"/>
<line x1="857.3" y1="701.4" x2="957.8" y2="701.4" stroke-width="1.1" stroke="#555"/>
<line x1="857.3" y1="713.6" x2="1170.0" y2="713.6" stroke-width="1.1" stroke="#555"/>
<line x1="957.8" y1="737.8" x2="1170.0" y2="737.8" stroke-width="1.1" stroke="#555"/>
<line x1="857.3" y1="636.3" x2="857.3" y2="756.0" stroke-width="1.1" stroke="#555"/>
<line x1="887.2" y1="670.4" x2="887.2" y2="713.6" stroke-width="1.1" stroke="#555"/>
<line x1="923.3" y1="670.4" x2="923.3" y2="713.6" stroke-width="1.1" stroke="#555"/>
<line x1="957.8" y1="670.4" x2="957.8" y2="756.0" stroke-width="1.1" stroke="#555"/>
<line x1="982.1" y1="713.6" x2="982.1" y2="737.8" stroke-width="1.1" stroke="#555"/>
<line x1="1144.4" y1="713.6" x2="1144.4" y2="737.8" stroke-width="1.1" stroke="#555"/>
<line x1="1105.6" y1="737.8" x2="1105.6" y2="756.0" stroke-width="1.1" stroke="#555"/>
<path d="M964.8,641 L975.3,653.3 L964.8,666 L954.3,653.3 Z" fill="none" stroke="#5aae32" stroke-width="1.4" stroke-linejoin="round"/>
<circle cx="964.8" cy="646.3" r="1.5" fill="#7a7a7a"/>
<circle cx="961.5" cy="649.8" r="1.5" fill="#7a7a7a"/>
<circle cx="968.0999999999999" cy="649.8" r="1.5" fill="#7a7a7a"/>
<circle cx="958.3" cy="653.3" r="1.5" fill="#7a7a7a"/>
<circle cx="964.8" cy="653.3" r="1.5" fill="#7a7a7a"/>
<circle cx="971.3" cy="653.3" r="1.5" fill="#7a7a7a"/>
<circle cx="961.5" cy="656.8" r="1.5" fill="#7a7a7a"/>
<circle cx="968.0999999999999" cy="656.8" r="1.5" fill="#7a7a7a"/>
<circle cx="964.8" cy="660.3" r="1.5" fill="#7a7a7a"/>
<text x="978.3" y="660.5" font-size="19" fill="#5a5a5a" textLength="78.5" lengthAdjust="spacingAndGlyphs">Capstan</text>
<text x="1057.5" y="660.5" font-size="19" fill="#aaa" textLength="28.5" lengthAdjust="spacingAndGlyphs">AG</text>
<text x="891.0" y="676.8" font-size="5.5" fill="#333" textLength="18" lengthAdjust="spacingAndGlyphs">Name</text>
<text x="928.0" y="676.8" font-size="5.5" fill="#333" textLength="15" lengthAdjust="spacingAndGlyphs">Date</text>
<text x="860.0" y="687.8" font-size="5.5" fill="#333" textLength="18" lengthAdjust="spacingAndGlyphs">Drawn</text>
<text x="860.0" y="698.5" font-size="5.5" fill="#333" textLength="22" lengthAdjust="spacingAndGlyphs">Checked</text>
<text x="860.0" y="709.5" font-size="5.5" fill="#333" textLength="19" lengthAdjust="spacingAndGlyphs">QA APP</text>
<text x="960.5" y="676.8" font-size="5.5" fill="#333" textLength="17" lengthAdjust="spacingAndGlyphs">TITLE:</text>
<text x="962.0" y="720.5" font-size="5.5" fill="#333" textLength="13" lengthAdjust="spacingAndGlyphs">SIZE</text>
<text x="990.0" y="720.5" font-size="5.5" fill="#333" textLength="20" lengthAdjust="spacingAndGlyphs">DWG No:</text>
<text x="1151.0" y="720.5" font-size="5.5" fill="#333" textLength="12" lengthAdjust="spacingAndGlyphs">REV</text>
<text x="893.0" y="689.5" font-size="12" textLength="23" lengthAdjust="spacingAndGlyphs">BLS</text>
<text x="924.2" y="689.5" font-size="12" textLength="33.5" lengthAdjust="spacingAndGlyphs">2/5/19</text>
<text x="1070.5" y="689.8" font-size="14.5" text-anchor="middle" textLength="108" lengthAdjust="spacingAndGlyphs">Harness, Adapter</text>
<text x="1076.8" y="706.7" font-size="14.5" text-anchor="middle" textLength="120.8" lengthAdjust="spacingAndGlyphs">9 Drops, LF to EVO</text>
<text x="970.0" y="735.3" font-size="13" text-anchor="middle">B</text>
<text x="1076.5" y="732.8" font-size="19" text-anchor="middle" textLength="97" lengthAdjust="spacingAndGlyphs">150001-009</text>
<text x="1157.3" y="733.0" font-size="12.5" text-anchor="middle">A</text>
<text x="960.5" y="749.5" font-size="8.6" fill="#333" textLength="33" lengthAdjust="spacingAndGlyphs">SCALE:</text>
<text x="1008.3" y="749.8" font-size="12" textLength="32" lengthAdjust="spacingAndGlyphs">None</text>
<text x="1111.5" y="753.0" font-size="9.2" fill="#333" textLength="56.5" lengthAdjust="spacingAndGlyphs">SHEET 1 of 1</text>
</svg></body></html>
